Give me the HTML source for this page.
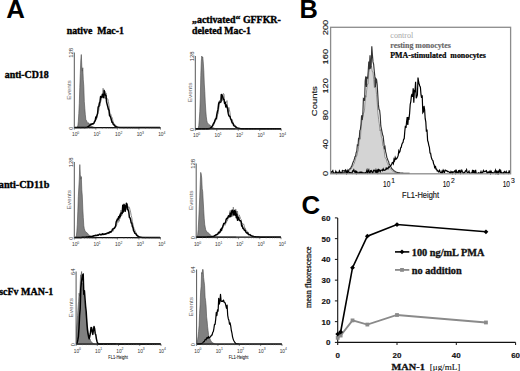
<!DOCTYPE html>
<html><head><meta charset="utf-8"><style>
html,body{margin:0;padding:0;background:#fff;}
body{width:520px;height:371px;overflow:hidden;font-family:"Liberation Sans",sans-serif;}
svg{display:block;}
</style></head><body>
<svg width="520" height="371" viewBox="0 0 520 371">
<rect width="520" height="371" fill="#fff"/>
<text x="6.3" y="17.6" font-size="25.8" font-family='"Liberation Sans", sans-serif' font-weight="bold" fill="#000" >A</text>
<text x="66.7" y="33.9" font-size="9.5" font-family='"Liberation Serif", serif' font-weight="bold" fill="#000" stroke="#000" stroke-width="0.35" textLength="57.2" lengthAdjust="spacingAndGlyphs" >native&#160;&#160;Mac-1</text>
<text x="192.1" y="22.5" font-size="9.3" font-family='"Liberation Serif", serif' font-weight="bold" fill="#000" stroke="#000" stroke-width="0.35" textLength="88.7" lengthAdjust="spacingAndGlyphs" >&#8222;activated&#8220; GFFKR-</text>
<text x="192.1" y="33.7" font-size="9.6" font-family='"Liberation Serif", serif' font-weight="bold" fill="#000" stroke="#000" stroke-width="0.35" textLength="58.8" lengthAdjust="spacingAndGlyphs" >deleted Mac-1</text>
<text x="4.7" y="77.9" font-size="10" font-family='"Liberation Serif", serif' font-weight="bold" fill="#000" stroke="#000" stroke-width="0.35" textLength="44" lengthAdjust="spacingAndGlyphs" >anti-CD18</text>
<text x="-1.2" y="187.6" font-size="10" font-family='"Liberation Serif", serif' font-weight="bold" fill="#000" stroke="#000" stroke-width="0.35" textLength="50.5" lengthAdjust="spacingAndGlyphs" >anti-CD11b</text>
<text x="-0.8" y="295.0" font-size="10" font-family='"Liberation Serif", serif' font-weight="bold" fill="#000" stroke="#000" stroke-width="0.35" textLength="54" lengthAdjust="spacingAndGlyphs" >scFv MAN-1</text>
<path d="M74.8,127.6 L74.8,127.6 L75.3,127.6 L75.8,127.6 L76.3,127.59 L76.8,127.54 L77.3,127.22 L77.8,126.02 L78.3,121.74 L78.8,113.62 L79.3,103.44 L79.8,87.33 L80.3,73.24 L80.8,60.15 L81.3,54.52 L81.8,66.04 L82.3,71.2 L82.8,67.77 L83.3,79.79 L83.8,86.32 L84.3,101.49 L84.8,108.24 L85.3,114.4 L85.8,119.46 L86.3,120.28 L86.8,121.15 L87.3,122.55 L87.8,122.9 L88.3,122.81 L88.8,122.96 L89.3,123.94 L89.8,124.55 L90.3,124.92 L90.8,125.56 L91.3,125.87 L91.8,126.15 L92.3,126.47 L92.8,126.74 L93.3,126.96 L93.8,127.13 L94.3,127.26 L94.8,127.36 L95.3,127.44 L95.8,127.49 L96.3,127.53 L96.8,127.55 L97.3,127.57 L97.8,127.58 L98.3,127.59 L98.8,127.59 L99.3,127.6 L99.8,127.6 L100.3,127.6 L100.8,127.6 L101.3,127.6 L101.8,127.6 L102.3,127.6 L102.8,127.6 L103.3,127.6 L103.8,127.6 L104.3,127.6 L104.8,127.6 L105.3,127.6 L105.8,127.6 L106.3,127.6 L106.8,127.6 L107.3,127.6 L107.8,127.6 L108.3,127.6 L108.8,127.6 L109.3,127.6 L109.8,127.6 L110.3,127.6 L110.8,127.6 L111.3,127.6 L111.8,127.6 L112.3,127.6 L112.8,127.6 L113.3,127.6 L113.8,127.6 L114.3,127.6 L114.3,127.6 Z" fill="#808080" stroke="#4a4a4a" stroke-width="0.6"/>
<path d="M74.8,127.6 L75.4,127.6 L76.0,127.6 L76.6,127.6 L77.2,127.6 L77.8,127.6 L78.4,127.6 L79.0,127.6 L79.6,127.6 L80.2,127.6 L80.8,127.6 L81.4,127.6 L82.0,127.6 L82.6,127.6 L83.2,127.6 L83.8,127.6 L84.4,127.6 L85.0,127.59 L85.6,127.57 L86.2,127.54 L86.8,127.48 L87.4,127.35 L88.0,127.15 L88.6,126.85 L89.2,126.44 L89.8,126.22 L90.4,125.55 L91.0,125.43 L91.6,124.74 L92.2,123.81 L92.8,123.63 L93.4,123.71 L94.0,122.83 L94.6,122.73 L95.2,120.81 L95.8,120.01 L96.4,119.91 L97.0,116.24 L97.6,114.25 L98.2,111.22 L98.8,110.74 L99.4,103.88 L100.0,105.73 L100.6,101.99 L101.2,100.31 L101.8,97.94 L102.4,97.52 L103.0,88.31 L103.6,88.96 L104.2,98.24 L104.8,91.0 L105.4,99.01 L106.0,92.92 L106.6,97.93 L107.2,98.65 L107.8,98.89 L108.4,101.65 L109.0,105.43 L109.6,111.08 L110.2,114.65 L110.8,114.09 L111.4,116.55 L112.0,117.25 L112.6,119.26 L113.2,122.56 L113.8,123.24 L114.4,123.81 L115.0,125.03 L115.6,125.23 L116.2,126.12 L116.8,126.53 L117.4,126.83 L118.0,127.06 L118.6,127.22 L119.2,127.34 L119.8,127.42 L120.4,127.48 L121.0,127.52 L121.6,127.55 L122.2,127.57 L122.8,127.58 L123.4,127.59 L124.0,127.59 L124.6,127.6 L125.2,127.6 L125.8,127.6 L126.4,127.6 L127.0,127.6 L127.6,127.6 L128.2,127.6 L128.8,127.6 L129.4,127.6 L130.0,127.6 L130.6,127.6 L131.2,127.6 L131.8,127.6 L132.4,127.6 L133.0,127.6 L133.6,127.6 L134.2,127.6 L134.8,127.6 L135.4,127.6 L136.0,127.6 L136.6,127.6 L137.2,127.6 L137.8,127.6 L138.4,127.6 L139.0,127.6 L139.6,127.6 L140.2,127.6 L140.8,127.6 L141.4,127.6 L142.0,127.6 L142.6,127.6 L143.2,127.6 L143.8,127.6 L144.4,127.6 L145.0,127.6 L145.6,127.6 L146.2,127.6 L146.8,127.6 L147.4,127.6 L148.0,127.6 L148.6,127.6 L149.2,127.6 L149.8,127.6 L150.4,127.6 L151.0,127.6 L151.6,127.6 L152.2,127.6 L152.8,127.6 L153.4,127.6 L154.0,127.6 L154.6,127.6 L155.2,127.6 L155.8,127.6 L156.4,127.6 L157.0,127.6 L157.6,127.6 L158.2,127.6 L158.8,127.6 L159.4,127.6 L160.0,127.6" fill="none" stroke="#8a8a8a" stroke-width="1.0" stroke-linejoin="round"/>
<path d="M74.8,127.6 L75.4,127.6 L76.0,127.6 L76.6,127.6 L77.2,127.6 L77.8,127.6 L78.4,127.6 L79.0,127.6 L79.6,127.6 L80.2,127.6 L80.8,127.6 L81.4,127.6 L82.0,127.6 L82.6,127.6 L83.2,127.6 L83.8,127.59 L84.4,127.59 L85.0,127.57 L85.6,127.53 L86.2,127.45 L86.8,127.31 L87.4,127.09 L88.0,126.77 L88.6,126.34 L89.2,125.8 L89.8,125.56 L90.4,124.47 L91.0,124.09 L91.6,124.28 L92.2,123.83 L92.8,124.1 L93.4,123.69 L94.0,122.94 L94.6,121.2 L95.2,120.86 L95.8,117.03 L96.4,117.88 L97.0,115.28 L97.6,113.46 L98.2,106.9 L98.8,106.63 L99.4,103.1 L100.0,101.74 L100.6,96.52 L101.2,96.8 L101.8,97.42 L102.4,94.14 L103.0,95.22 L103.6,97.58 L104.2,90.61 L104.8,93.45 L105.4,95.34 L106.0,95.45 L106.6,102.11 L107.2,104.6 L107.8,106.75 L108.4,109.35 L109.0,110.39 L109.6,115.86 L110.2,116.0 L110.8,117.76 L111.4,120.05 L112.0,122.18 L112.6,122.2 L113.2,124.26 L113.8,124.49 L114.4,125.55 L115.0,126.13 L115.6,126.33 L116.2,126.68 L116.8,126.95 L117.4,127.14 L118.0,127.28 L118.6,127.38 L119.2,127.45 L119.8,127.5 L120.4,127.54 L121.0,127.56 L121.6,127.57 L122.2,127.58 L122.8,127.59 L123.4,127.59 L124.0,127.6 L124.6,127.6 L125.2,127.6 L125.8,127.6 L126.4,127.6 L127.0,127.6 L127.6,127.6 L128.2,127.6 L128.8,127.6 L129.4,127.6 L130.0,127.6 L130.6,127.6 L131.2,127.6 L131.8,127.6 L132.4,127.6 L133.0,127.6 L133.6,127.6 L134.2,127.6 L134.8,127.6 L135.4,127.6 L136.0,127.6 L136.6,127.6 L137.2,127.6 L137.8,127.6 L138.4,127.6 L139.0,127.6 L139.6,127.6 L140.2,127.6 L140.8,127.6 L141.4,127.6 L142.0,127.6 L142.6,127.6 L143.2,127.6 L143.8,127.6 L144.4,127.6 L145.0,127.6 L145.6,127.6 L146.2,127.6 L146.8,127.6 L147.4,127.6 L148.0,127.6 L148.6,127.6 L149.2,127.6 L149.8,127.6 L150.4,127.6 L151.0,127.6 L151.6,127.6 L152.2,127.6 L152.8,127.6 L153.4,127.6 L154.0,127.6 L154.6,127.6 L155.2,127.6 L155.8,127.6 L156.4,127.6 L157.0,127.6 L157.6,127.6 L158.2,127.6 L158.8,127.6 L159.4,127.6 L160.0,127.6" fill="none" stroke="#000" stroke-width="1.5" stroke-linejoin="round"/>
<line x1="74.3" y1="52.5" x2="74.3" y2="127.6" stroke="#444" stroke-width="0.9"/>
<line x1="74.3" y1="127.6" x2="160.5" y2="127.6" stroke="#111" stroke-width="1.25"/>
<line x1="80.79" y1="127.6" x2="80.79" y2="128.79999999999998" stroke="#555" stroke-width="0.5"/>
<line x1="84.58" y1="127.6" x2="84.58" y2="128.79999999999998" stroke="#555" stroke-width="0.5"/>
<line x1="87.27" y1="127.6" x2="87.27" y2="128.79999999999998" stroke="#555" stroke-width="0.5"/>
<line x1="89.36" y1="127.6" x2="89.36" y2="128.79999999999998" stroke="#555" stroke-width="0.5"/>
<line x1="91.07" y1="127.6" x2="91.07" y2="128.79999999999998" stroke="#555" stroke-width="0.5"/>
<line x1="92.51" y1="127.6" x2="92.51" y2="128.79999999999998" stroke="#555" stroke-width="0.5"/>
<line x1="93.76" y1="127.6" x2="93.76" y2="128.79999999999998" stroke="#555" stroke-width="0.5"/>
<line x1="94.86" y1="127.6" x2="94.86" y2="128.79999999999998" stroke="#555" stroke-width="0.5"/>
<line x1="102.34" y1="127.6" x2="102.34" y2="128.79999999999998" stroke="#555" stroke-width="0.5"/>
<line x1="106.13" y1="127.6" x2="106.13" y2="128.79999999999998" stroke="#555" stroke-width="0.5"/>
<line x1="108.82" y1="127.6" x2="108.82" y2="128.79999999999998" stroke="#555" stroke-width="0.5"/>
<line x1="110.91" y1="127.6" x2="110.91" y2="128.79999999999998" stroke="#555" stroke-width="0.5"/>
<line x1="112.62" y1="127.6" x2="112.62" y2="128.79999999999998" stroke="#555" stroke-width="0.5"/>
<line x1="114.06" y1="127.6" x2="114.06" y2="128.79999999999998" stroke="#555" stroke-width="0.5"/>
<line x1="115.31" y1="127.6" x2="115.31" y2="128.79999999999998" stroke="#555" stroke-width="0.5"/>
<line x1="116.41" y1="127.6" x2="116.41" y2="128.79999999999998" stroke="#555" stroke-width="0.5"/>
<line x1="123.89" y1="127.6" x2="123.89" y2="128.79999999999998" stroke="#555" stroke-width="0.5"/>
<line x1="127.68" y1="127.6" x2="127.68" y2="128.79999999999998" stroke="#555" stroke-width="0.5"/>
<line x1="130.37" y1="127.6" x2="130.37" y2="128.79999999999998" stroke="#555" stroke-width="0.5"/>
<line x1="132.46" y1="127.6" x2="132.46" y2="128.79999999999998" stroke="#555" stroke-width="0.5"/>
<line x1="134.17" y1="127.6" x2="134.17" y2="128.79999999999998" stroke="#555" stroke-width="0.5"/>
<line x1="135.61" y1="127.6" x2="135.61" y2="128.79999999999998" stroke="#555" stroke-width="0.5"/>
<line x1="136.86" y1="127.6" x2="136.86" y2="128.79999999999998" stroke="#555" stroke-width="0.5"/>
<line x1="137.96" y1="127.6" x2="137.96" y2="128.79999999999998" stroke="#555" stroke-width="0.5"/>
<line x1="145.44" y1="127.6" x2="145.44" y2="128.79999999999998" stroke="#555" stroke-width="0.5"/>
<line x1="149.23" y1="127.6" x2="149.23" y2="128.79999999999998" stroke="#555" stroke-width="0.5"/>
<line x1="151.92" y1="127.6" x2="151.92" y2="128.79999999999998" stroke="#555" stroke-width="0.5"/>
<line x1="154.01" y1="127.6" x2="154.01" y2="128.79999999999998" stroke="#555" stroke-width="0.5"/>
<line x1="155.72" y1="127.6" x2="155.72" y2="128.79999999999998" stroke="#555" stroke-width="0.5"/>
<line x1="157.16" y1="127.6" x2="157.16" y2="128.79999999999998" stroke="#555" stroke-width="0.5"/>
<line x1="158.41" y1="127.6" x2="158.41" y2="128.79999999999998" stroke="#555" stroke-width="0.5"/>
<line x1="159.51" y1="127.6" x2="159.51" y2="128.79999999999998" stroke="#555" stroke-width="0.5"/>
<line x1="74.30" y1="127.6" x2="74.30" y2="129.6" stroke="#333" stroke-width="0.6"/>
<text x="72.0" y="136.1" font-size="4.8" font-family='"Liberation Sans", sans-serif' font-weight="normal" fill="#333" >10</text>
<text x="77.3" y="133.9" font-size="3.4" font-family='"Liberation Sans", sans-serif' font-weight="normal" fill="#333" >0</text>
<line x1="95.85" y1="127.6" x2="95.85" y2="129.6" stroke="#333" stroke-width="0.6"/>
<text x="93.55" y="136.1" font-size="4.8" font-family='"Liberation Sans", sans-serif' font-weight="normal" fill="#333" >10</text>
<text x="98.85" y="133.9" font-size="3.4" font-family='"Liberation Sans", sans-serif' font-weight="normal" fill="#333" >1</text>
<line x1="117.40" y1="127.6" x2="117.40" y2="129.6" stroke="#333" stroke-width="0.6"/>
<text x="115.1" y="136.1" font-size="4.8" font-family='"Liberation Sans", sans-serif' font-weight="normal" fill="#333" >10</text>
<text x="120.4" y="133.9" font-size="3.4" font-family='"Liberation Sans", sans-serif' font-weight="normal" fill="#333" >2</text>
<line x1="138.95" y1="127.6" x2="138.95" y2="129.6" stroke="#333" stroke-width="0.6"/>
<text x="136.65" y="136.1" font-size="4.8" font-family='"Liberation Sans", sans-serif' font-weight="normal" fill="#333" >10</text>
<text x="141.95" y="133.9" font-size="3.4" font-family='"Liberation Sans", sans-serif' font-weight="normal" fill="#333" >3</text>
<line x1="160.50" y1="127.6" x2="160.50" y2="129.6" stroke="#333" stroke-width="0.6"/>
<text x="158.2" y="136.1" font-size="4.8" font-family='"Liberation Sans", sans-serif' font-weight="normal" fill="#333" >10</text>
<text x="163.5" y="133.9" font-size="3.4" font-family='"Liberation Sans", sans-serif' font-weight="normal" fill="#333" >4</text>
<text x="72.9" y="52.8" font-size="6.0" font-family='"Liberation Sans", sans-serif' font-weight="normal" fill="#333" text-anchor="middle" transform="rotate(-90 72.9 52.8)" >128</text>
<text x="72.9" y="128.2" font-size="5.5" font-family='"Liberation Sans", sans-serif' font-weight="normal" fill="#333" text-anchor="middle" transform="rotate(-90 72.9 128.2)" >0</text>
<text x="70.7" y="90.05" font-size="4.8" font-family='"Liberation Sans", sans-serif' font-weight="normal" fill="#666" text-anchor="middle" transform="rotate(-90 70.7 90.05)" textLength="19.5" lengthAdjust="spacingAndGlyphs">Events</text>
<path d="M195.8,128.8 L195.8,128.8 L196.3,128.8 L196.8,128.8 L197.3,128.78 L197.8,128.66 L198.3,128.02 L198.8,125.49 L199.3,119.34 L199.8,111.47 L200.3,98.01 L200.8,75.49 L201.3,61.33 L201.8,56.0 L202.3,57.66 L202.8,57.04 L203.3,63.02 L203.8,70.78 L204.3,83.98 L204.8,91.86 L205.3,102.93 L205.8,110.91 L206.3,116.82 L206.8,120.52 L207.3,122.55 L207.8,123.23 L208.3,123.79 L208.8,124.39 L209.3,124.8 L209.8,124.89 L210.3,125.49 L210.8,125.94 L211.3,126.15 L211.8,126.78 L212.3,127.16 L212.8,127.52 L213.3,127.82 L213.8,128.06 L214.3,128.25 L214.8,128.4 L215.3,128.52 L215.8,128.6 L216.3,128.66 L216.8,128.71 L217.3,128.74 L217.8,128.76 L218.3,128.78 L218.8,128.79 L219.3,128.79 L219.8,128.79 L220.3,128.8 L220.8,128.8 L221.3,128.8 L221.8,128.8 L222.3,128.8 L222.8,128.8 L223.3,128.8 L223.8,128.8 L224.3,128.8 L224.8,128.8 L225.3,128.8 L225.8,128.8 L226.3,128.8 L226.8,128.8 L227.3,128.8 L227.8,128.8 L228.3,128.8 L228.8,128.8 L229.3,128.8 L229.8,128.8 L230.3,128.8 L230.8,128.8 L231.3,128.8 L231.8,128.8 L232.3,128.8 L232.8,128.8 L233.3,128.8 L233.8,128.8 L234.3,128.8 L234.8,128.8 L235.3,128.8 L235.3,128.8 Z" fill="#808080" stroke="#4a4a4a" stroke-width="0.6"/>
<path d="M195.8,128.8 L196.4,128.8 L197.0,128.8 L197.6,128.8 L198.2,128.8 L198.8,128.8 L199.4,128.8 L200.0,128.8 L200.6,128.8 L201.2,128.8 L201.8,128.8 L202.4,128.8 L203.0,128.8 L203.6,128.8 L204.2,128.8 L204.8,128.8 L205.4,128.8 L206.0,128.8 L206.6,128.79 L207.2,128.79 L207.8,128.78 L208.4,128.76 L209.0,128.71 L209.6,128.63 L210.2,128.48 L210.8,128.22 L211.4,127.83 L212.0,127.11 L212.6,126.39 L213.2,125.71 L213.8,125.04 L214.4,122.96 L215.0,120.81 L215.6,120.89 L216.2,117.68 L216.8,119.32 L217.4,114.77 L218.0,114.33 L218.6,109.58 L219.2,105.58 L219.8,100.06 L220.4,100.7 L221.0,94.26 L221.6,99.24 L222.2,100.97 L222.8,96.41 L223.4,93.44 L224.0,94.22 L224.6,103.57 L225.2,102.06 L225.8,103.35 L226.4,102.58 L227.0,100.58 L227.6,108.21 L228.2,111.92 L228.8,107.28 L229.4,109.83 L230.0,112.66 L230.6,118.45 L231.2,118.9 L231.8,120.67 L232.4,119.61 L233.0,123.2 L233.6,124.17 L234.2,124.85 L234.8,124.78 L235.4,126.27 L236.0,126.08 L236.6,127.15 L237.2,127.42 L237.8,127.74 L238.4,128.0 L239.0,128.2 L239.6,128.35 L240.2,128.47 L240.8,128.56 L241.4,128.63 L242.0,128.68 L242.6,128.71 L243.2,128.74 L243.8,128.76 L244.4,128.77 L245.0,128.78 L245.6,128.79 L246.2,128.79 L246.8,128.79 L247.4,128.8 L248.0,128.8 L248.6,128.8 L249.2,128.8 L249.8,128.8 L250.4,128.8 L251.0,128.8 L251.6,128.8 L252.2,128.8 L252.8,128.8 L253.4,128.8 L254.0,128.8 L254.6,128.8 L255.2,128.8 L255.8,128.8 L256.4,128.8 L257.0,128.8 L257.6,128.8 L258.2,128.8 L258.8,128.8 L259.4,128.8 L260.0,128.8 L260.6,128.8 L261.2,128.8 L261.8,128.8 L262.4,128.8 L263.0,128.8 L263.6,128.8 L264.2,128.8 L264.8,128.8 L265.4,128.8 L266.0,128.8 L266.6,128.8 L267.2,128.8 L267.8,128.8 L268.4,128.8 L269.0,128.8 L269.6,128.8 L270.2,128.8 L270.8,128.8 L271.4,128.8 L272.0,128.8 L272.6,128.8 L273.2,128.8 L273.8,128.8 L274.4,128.8 L275.0,128.8 L275.6,128.8 L276.2,128.8 L276.8,128.8 L277.4,128.8 L278.0,128.8 L278.6,128.8 L279.2,128.8 L279.8,128.8 L280.4,128.8 L281.0,128.8" fill="none" stroke="#8a8a8a" stroke-width="1.0" stroke-linejoin="round"/>
<path d="M195.8,128.8 L196.4,128.8 L197.0,128.8 L197.6,128.8 L198.2,128.8 L198.8,128.8 L199.4,128.8 L200.0,128.8 L200.6,128.8 L201.2,128.8 L201.8,128.8 L202.4,128.8 L203.0,128.8 L203.6,128.8 L204.2,128.8 L204.8,128.8 L205.4,128.8 L206.0,128.79 L206.6,128.79 L207.2,128.77 L207.8,128.75 L208.4,128.69 L209.0,128.6 L209.6,128.42 L210.2,128.14 L210.8,127.72 L211.4,127.31 L212.0,126.26 L212.6,125.78 L213.2,124.06 L213.8,123.02 L214.4,122.21 L215.0,120.25 L215.6,118.73 L216.2,118.76 L216.8,114.67 L217.4,111.64 L218.0,109.4 L218.6,104.0 L219.2,102.08 L219.8,102.59 L220.4,102.09 L221.0,101.82 L221.6,94.43 L222.2,95.67 L222.8,96.88 L223.4,99.23 L224.0,99.66 L224.6,103.42 L225.2,102.18 L225.8,106.92 L226.4,105.06 L227.0,106.98 L227.6,108.78 L228.2,113.15 L228.8,115.66 L229.4,116.24 L230.0,116.59 L230.6,118.87 L231.2,119.71 L231.8,121.88 L232.4,123.1 L233.0,123.32 L233.6,125.27 L234.2,125.91 L234.8,126.19 L235.4,126.71 L236.0,127.27 L236.6,127.59 L237.2,127.88 L237.8,128.1 L238.4,128.28 L239.0,128.41 L239.6,128.52 L240.2,128.6 L240.8,128.65 L241.4,128.7 L242.0,128.73 L242.6,128.75 L243.2,128.77 L243.8,128.78 L244.4,128.78 L245.0,128.79 L245.6,128.79 L246.2,128.8 L246.8,128.8 L247.4,128.8 L248.0,128.8 L248.6,128.8 L249.2,128.8 L249.8,128.8 L250.4,128.8 L251.0,128.8 L251.6,128.8 L252.2,128.8 L252.8,128.8 L253.4,128.8 L254.0,128.8 L254.6,128.8 L255.2,128.8 L255.8,128.8 L256.4,128.8 L257.0,128.8 L257.6,128.8 L258.2,128.8 L258.8,128.8 L259.4,128.8 L260.0,128.8 L260.6,128.8 L261.2,128.8 L261.8,128.8 L262.4,128.8 L263.0,128.8 L263.6,128.8 L264.2,128.8 L264.8,128.8 L265.4,128.8 L266.0,128.8 L266.6,128.8 L267.2,128.8 L267.8,128.8 L268.4,128.8 L269.0,128.8 L269.6,128.8 L270.2,128.8 L270.8,128.8 L271.4,128.8 L272.0,128.8 L272.6,128.8 L273.2,128.8 L273.8,128.8 L274.4,128.8 L275.0,128.8 L275.6,128.8 L276.2,128.8 L276.8,128.8 L277.4,128.8 L278.0,128.8 L278.6,128.8 L279.2,128.8 L279.8,128.8 L280.4,128.8 L281.0,128.8" fill="none" stroke="#000" stroke-width="1.5" stroke-linejoin="round"/>
<line x1="195.3" y1="56.0" x2="195.3" y2="128.8" stroke="#444" stroke-width="0.9"/>
<line x1="195.3" y1="128.8" x2="281.2" y2="128.8" stroke="#111" stroke-width="1.25"/>
<line x1="201.76" y1="128.8" x2="201.76" y2="130.0" stroke="#555" stroke-width="0.5"/>
<line x1="205.55" y1="128.8" x2="205.55" y2="130.0" stroke="#555" stroke-width="0.5"/>
<line x1="208.23" y1="128.8" x2="208.23" y2="130.0" stroke="#555" stroke-width="0.5"/>
<line x1="210.31" y1="128.8" x2="210.31" y2="130.0" stroke="#555" stroke-width="0.5"/>
<line x1="212.01" y1="128.8" x2="212.01" y2="130.0" stroke="#555" stroke-width="0.5"/>
<line x1="213.45" y1="128.8" x2="213.45" y2="130.0" stroke="#555" stroke-width="0.5"/>
<line x1="214.69" y1="128.8" x2="214.69" y2="130.0" stroke="#555" stroke-width="0.5"/>
<line x1="215.79" y1="128.8" x2="215.79" y2="130.0" stroke="#555" stroke-width="0.5"/>
<line x1="223.24" y1="128.8" x2="223.24" y2="130.0" stroke="#555" stroke-width="0.5"/>
<line x1="227.02" y1="128.8" x2="227.02" y2="130.0" stroke="#555" stroke-width="0.5"/>
<line x1="229.70" y1="128.8" x2="229.70" y2="130.0" stroke="#555" stroke-width="0.5"/>
<line x1="231.79" y1="128.8" x2="231.79" y2="130.0" stroke="#555" stroke-width="0.5"/>
<line x1="233.49" y1="128.8" x2="233.49" y2="130.0" stroke="#555" stroke-width="0.5"/>
<line x1="234.92" y1="128.8" x2="234.92" y2="130.0" stroke="#555" stroke-width="0.5"/>
<line x1="236.17" y1="128.8" x2="236.17" y2="130.0" stroke="#555" stroke-width="0.5"/>
<line x1="237.27" y1="128.8" x2="237.27" y2="130.0" stroke="#555" stroke-width="0.5"/>
<line x1="244.71" y1="128.8" x2="244.71" y2="130.0" stroke="#555" stroke-width="0.5"/>
<line x1="248.50" y1="128.8" x2="248.50" y2="130.0" stroke="#555" stroke-width="0.5"/>
<line x1="251.18" y1="128.8" x2="251.18" y2="130.0" stroke="#555" stroke-width="0.5"/>
<line x1="253.26" y1="128.8" x2="253.26" y2="130.0" stroke="#555" stroke-width="0.5"/>
<line x1="254.96" y1="128.8" x2="254.96" y2="130.0" stroke="#555" stroke-width="0.5"/>
<line x1="256.40" y1="128.8" x2="256.40" y2="130.0" stroke="#555" stroke-width="0.5"/>
<line x1="257.64" y1="128.8" x2="257.64" y2="130.0" stroke="#555" stroke-width="0.5"/>
<line x1="258.74" y1="128.8" x2="258.74" y2="130.0" stroke="#555" stroke-width="0.5"/>
<line x1="266.19" y1="128.8" x2="266.19" y2="130.0" stroke="#555" stroke-width="0.5"/>
<line x1="269.97" y1="128.8" x2="269.97" y2="130.0" stroke="#555" stroke-width="0.5"/>
<line x1="272.65" y1="128.8" x2="272.65" y2="130.0" stroke="#555" stroke-width="0.5"/>
<line x1="274.74" y1="128.8" x2="274.74" y2="130.0" stroke="#555" stroke-width="0.5"/>
<line x1="276.44" y1="128.8" x2="276.44" y2="130.0" stroke="#555" stroke-width="0.5"/>
<line x1="277.87" y1="128.8" x2="277.87" y2="130.0" stroke="#555" stroke-width="0.5"/>
<line x1="279.12" y1="128.8" x2="279.12" y2="130.0" stroke="#555" stroke-width="0.5"/>
<line x1="280.22" y1="128.8" x2="280.22" y2="130.0" stroke="#555" stroke-width="0.5"/>
<line x1="195.30" y1="128.8" x2="195.30" y2="130.8" stroke="#333" stroke-width="0.6"/>
<text x="193.0" y="137.3" font-size="4.8" font-family='"Liberation Sans", sans-serif' font-weight="normal" fill="#333" >10</text>
<text x="198.3" y="135.1" font-size="3.4" font-family='"Liberation Sans", sans-serif' font-weight="normal" fill="#333" >0</text>
<line x1="216.78" y1="128.8" x2="216.78" y2="130.8" stroke="#333" stroke-width="0.6"/>
<text x="214.47" y="137.3" font-size="4.8" font-family='"Liberation Sans", sans-serif' font-weight="normal" fill="#333" >10</text>
<text x="219.78" y="135.1" font-size="3.4" font-family='"Liberation Sans", sans-serif' font-weight="normal" fill="#333" >1</text>
<line x1="238.25" y1="128.8" x2="238.25" y2="130.8" stroke="#333" stroke-width="0.6"/>
<text x="235.95" y="137.3" font-size="4.8" font-family='"Liberation Sans", sans-serif' font-weight="normal" fill="#333" >10</text>
<text x="241.25" y="135.1" font-size="3.4" font-family='"Liberation Sans", sans-serif' font-weight="normal" fill="#333" >2</text>
<line x1="259.73" y1="128.8" x2="259.73" y2="130.8" stroke="#333" stroke-width="0.6"/>
<text x="257.43" y="137.3" font-size="4.8" font-family='"Liberation Sans", sans-serif' font-weight="normal" fill="#333" >10</text>
<text x="262.73" y="135.1" font-size="3.4" font-family='"Liberation Sans", sans-serif' font-weight="normal" fill="#333" >3</text>
<line x1="281.20" y1="128.8" x2="281.20" y2="130.8" stroke="#333" stroke-width="0.6"/>
<text x="278.9" y="137.3" font-size="4.8" font-family='"Liberation Sans", sans-serif' font-weight="normal" fill="#333" >10</text>
<text x="284.2" y="135.1" font-size="3.4" font-family='"Liberation Sans", sans-serif' font-weight="normal" fill="#333" >4</text>
<text x="193.9" y="56.3" font-size="6.0" font-family='"Liberation Sans", sans-serif' font-weight="normal" fill="#333" text-anchor="middle" transform="rotate(-90 193.9 56.3)" >128</text>
<text x="193.9" y="129.4" font-size="5.5" font-family='"Liberation Sans", sans-serif' font-weight="normal" fill="#333" text-anchor="middle" transform="rotate(-90 193.9 129.4)" >0</text>
<text x="191.7" y="92.4" font-size="4.8" font-family='"Liberation Sans", sans-serif' font-weight="normal" fill="#666" text-anchor="middle" transform="rotate(-90 191.7 92.4)" textLength="19.5" lengthAdjust="spacingAndGlyphs">Events</text>
<path d="M74.8,237.5 L74.8,237.49 L75.3,237.44 L75.8,237.13 L76.3,235.91 L76.8,232.03 L77.3,224.72 L77.8,211.86 L78.3,196.66 L78.8,187.93 L79.3,179.08 L79.8,164.58 L80.3,174.44 L80.8,179.19 L81.3,176.55 L81.8,189.83 L82.3,196.06 L82.8,208.9 L83.3,217.53 L83.8,225.79 L84.3,228.65 L84.8,230.25 L85.3,231.47 L85.8,231.63 L86.3,232.11 L86.8,233.14 L87.3,232.99 L87.8,233.66 L88.3,234.38 L88.8,235.02 L89.3,235.07 L89.8,235.67 L90.3,236.04 L90.8,236.37 L91.3,236.63 L91.8,236.85 L92.3,237.03 L92.8,237.16 L93.3,237.26 L93.8,237.34 L94.3,237.39 L94.8,237.43 L95.3,237.45 L95.8,237.47 L96.3,237.48 L96.8,237.49 L97.3,237.49 L97.8,237.5 L98.3,237.5 L98.8,237.5 L99.3,237.5 L99.8,237.5 L100.3,237.5 L100.8,237.5 L101.3,237.5 L101.8,237.5 L102.3,237.5 L102.8,237.5 L103.3,237.5 L103.8,237.5 L104.3,237.5 L104.8,237.5 L105.3,237.5 L105.8,237.5 L106.3,237.5 L106.8,237.5 L107.3,237.5 L107.8,237.5 L108.3,237.5 L108.8,237.5 L109.3,237.5 L109.8,237.5 L110.3,237.5 L110.8,237.5 L111.3,237.5 L111.8,237.5 L112.3,237.5 L112.8,237.5 L113.3,237.5 L113.8,237.5 L114.3,237.5 L114.3,237.5 Z" fill="#808080" stroke="#4a4a4a" stroke-width="0.6"/>
<path d="M74.8,237.49 L75.4,237.49 L76.0,237.49 L76.6,237.48 L77.2,237.48 L77.8,237.47 L78.4,237.47 L79.0,237.46 L79.6,237.45 L80.2,237.44 L80.8,237.42 L81.4,237.41 L82.0,237.39 L82.6,237.37 L83.2,237.35 L83.8,237.32 L84.4,237.29 L85.0,237.25 L85.6,237.21 L86.2,237.17 L86.8,237.12 L87.4,237.06 L88.0,237.0 L88.6,236.93 L89.2,236.85 L89.8,236.77 L90.4,236.67 L91.0,236.58 L91.6,236.47 L92.2,236.36 L92.8,236.24 L93.4,236.12 L94.0,236.24 L94.6,235.63 L95.2,235.64 L95.8,235.8 L96.4,235.2 L97.0,235.2 L97.6,234.83 L98.2,234.88 L98.8,234.62 L99.4,234.41 L100.0,234.76 L100.6,234.95 L101.2,233.83 L101.8,234.72 L102.4,234.03 L103.0,233.31 L103.6,234.12 L104.2,234.16 L104.8,233.9 L105.4,234.09 L106.0,233.14 L106.6,233.76 L107.2,234.03 L107.8,233.03 L108.4,233.47 L109.0,233.46 L109.6,233.58 L110.2,231.68 L110.8,232.31 L111.4,231.41 L112.0,231.21 L112.6,229.58 L113.2,231.24 L113.8,228.71 L114.4,227.07 L115.0,228.18 L115.6,226.49 L116.2,225.8 L116.8,224.64 L117.4,219.55 L118.0,222.6 L118.6,217.51 L119.2,221.29 L119.8,213.67 L120.4,218.37 L121.0,210.14 L121.6,216.03 L122.2,213.28 L122.8,211.64 L123.4,210.47 L124.0,203.62 L124.6,206.27 L125.2,211.62 L125.8,209.71 L126.4,206.75 L127.0,203.56 L127.6,205.39 L128.2,208.63 L128.8,206.66 L129.4,207.39 L130.0,209.86 L130.6,212.16 L131.2,215.46 L131.8,217.7 L132.4,221.91 L133.0,224.31 L133.6,226.85 L134.2,229.33 L134.8,229.57 L135.4,232.14 L136.0,232.31 L136.6,234.08 L137.2,235.32 L137.8,235.16 L138.4,235.97 L139.0,236.36 L139.6,236.67 L140.2,236.9 L140.8,237.08 L141.4,237.21 L142.0,237.3 L142.6,237.36 L143.2,237.41 L143.8,237.44 L144.4,237.46 L145.0,237.47 L145.6,237.48 L146.2,237.49 L146.8,237.49 L147.4,237.5 L148.0,237.5 L148.6,237.5 L149.2,237.5 L149.8,237.5 L150.4,237.5 L151.0,237.5 L151.6,237.5 L152.2,237.5 L152.8,237.5 L153.4,237.5 L154.0,237.5 L154.6,237.5 L155.2,237.5 L155.8,237.5 L156.4,237.5 L157.0,237.5 L157.6,237.5 L158.2,237.5 L158.8,237.5 L159.4,237.5 L160.0,237.5" fill="none" stroke="#8a8a8a" stroke-width="1.0" stroke-linejoin="round"/>
<path d="M74.8,237.49 L75.4,237.48 L76.0,237.48 L76.6,237.48 L77.2,237.47 L77.8,237.46 L78.4,237.46 L79.0,237.45 L79.6,237.44 L80.2,237.42 L80.8,237.41 L81.4,237.39 L82.0,237.37 L82.6,237.35 L83.2,237.32 L83.8,237.29 L84.4,237.25 L85.0,237.21 L85.6,237.17 L86.2,237.12 L86.8,237.06 L87.4,237.0 L88.0,236.93 L88.6,236.85 L89.2,236.77 L89.8,236.68 L90.4,236.59 L91.0,236.49 L91.6,236.38 L92.2,236.26 L92.8,236.14 L93.4,236.02 L94.0,235.64 L94.6,235.78 L95.2,235.49 L95.8,235.33 L96.4,235.54 L97.0,235.52 L97.6,234.99 L98.2,235.25 L98.8,234.91 L99.4,234.33 L100.0,234.21 L100.6,234.82 L101.2,234.76 L101.8,234.52 L102.4,233.78 L103.0,234.57 L103.6,234.27 L104.2,234.33 L104.8,234.23 L105.4,233.66 L106.0,233.99 L106.6,233.6 L107.2,233.05 L107.8,232.9 L108.4,233.14 L109.0,232.36 L109.6,232.4 L110.2,231.63 L110.8,232.24 L111.4,231.55 L112.0,230.55 L112.6,229.0 L113.2,228.98 L113.8,228.49 L114.4,228.24 L115.0,227.13 L115.6,226.29 L116.2,221.77 L116.8,220.68 L117.4,219.03 L118.0,219.46 L118.6,216.82 L119.2,217.96 L119.8,215.24 L120.4,216.38 L121.0,212.96 L121.6,213.15 L122.2,213.47 L122.8,205.16 L123.4,211.99 L124.0,204.65 L124.6,205.36 L125.2,211.14 L125.8,207.48 L126.4,203.23 L127.0,204.47 L127.6,209.72 L128.2,209.7 L128.8,212.24 L129.4,217.33 L130.0,217.75 L130.6,219.73 L131.2,222.94 L131.8,223.19 L132.4,226.67 L133.0,227.53 L133.6,230.94 L134.2,231.41 L134.8,233.25 L135.4,233.39 L136.0,234.07 L136.6,235.12 L137.2,235.68 L137.8,236.17 L138.4,236.52 L139.0,236.79 L139.6,236.99 L140.2,237.14 L140.8,237.25 L141.4,237.33 L142.0,237.39 L142.6,237.42 L143.2,237.45 L143.8,237.47 L144.4,237.48 L145.0,237.49 L145.6,237.49 L146.2,237.5 L146.8,237.5 L147.4,237.5 L148.0,237.5 L148.6,237.5 L149.2,237.5 L149.8,237.5 L150.4,237.5 L151.0,237.5 L151.6,237.5 L152.2,237.5 L152.8,237.5 L153.4,237.5 L154.0,237.5 L154.6,237.5 L155.2,237.5 L155.8,237.5 L156.4,237.5 L157.0,237.5 L157.6,237.5 L158.2,237.5 L158.8,237.5 L159.4,237.5 L160.0,237.5" fill="none" stroke="#000" stroke-width="1.5" stroke-linejoin="round"/>
<line x1="74.3" y1="162.0" x2="74.3" y2="237.5" stroke="#444" stroke-width="0.9"/>
<line x1="74.3" y1="237.5" x2="160.5" y2="237.5" stroke="#111" stroke-width="1.25"/>
<line x1="80.79" y1="237.5" x2="80.79" y2="238.7" stroke="#555" stroke-width="0.5"/>
<line x1="84.58" y1="237.5" x2="84.58" y2="238.7" stroke="#555" stroke-width="0.5"/>
<line x1="87.27" y1="237.5" x2="87.27" y2="238.7" stroke="#555" stroke-width="0.5"/>
<line x1="89.36" y1="237.5" x2="89.36" y2="238.7" stroke="#555" stroke-width="0.5"/>
<line x1="91.07" y1="237.5" x2="91.07" y2="238.7" stroke="#555" stroke-width="0.5"/>
<line x1="92.51" y1="237.5" x2="92.51" y2="238.7" stroke="#555" stroke-width="0.5"/>
<line x1="93.76" y1="237.5" x2="93.76" y2="238.7" stroke="#555" stroke-width="0.5"/>
<line x1="94.86" y1="237.5" x2="94.86" y2="238.7" stroke="#555" stroke-width="0.5"/>
<line x1="102.34" y1="237.5" x2="102.34" y2="238.7" stroke="#555" stroke-width="0.5"/>
<line x1="106.13" y1="237.5" x2="106.13" y2="238.7" stroke="#555" stroke-width="0.5"/>
<line x1="108.82" y1="237.5" x2="108.82" y2="238.7" stroke="#555" stroke-width="0.5"/>
<line x1="110.91" y1="237.5" x2="110.91" y2="238.7" stroke="#555" stroke-width="0.5"/>
<line x1="112.62" y1="237.5" x2="112.62" y2="238.7" stroke="#555" stroke-width="0.5"/>
<line x1="114.06" y1="237.5" x2="114.06" y2="238.7" stroke="#555" stroke-width="0.5"/>
<line x1="115.31" y1="237.5" x2="115.31" y2="238.7" stroke="#555" stroke-width="0.5"/>
<line x1="116.41" y1="237.5" x2="116.41" y2="238.7" stroke="#555" stroke-width="0.5"/>
<line x1="123.89" y1="237.5" x2="123.89" y2="238.7" stroke="#555" stroke-width="0.5"/>
<line x1="127.68" y1="237.5" x2="127.68" y2="238.7" stroke="#555" stroke-width="0.5"/>
<line x1="130.37" y1="237.5" x2="130.37" y2="238.7" stroke="#555" stroke-width="0.5"/>
<line x1="132.46" y1="237.5" x2="132.46" y2="238.7" stroke="#555" stroke-width="0.5"/>
<line x1="134.17" y1="237.5" x2="134.17" y2="238.7" stroke="#555" stroke-width="0.5"/>
<line x1="135.61" y1="237.5" x2="135.61" y2="238.7" stroke="#555" stroke-width="0.5"/>
<line x1="136.86" y1="237.5" x2="136.86" y2="238.7" stroke="#555" stroke-width="0.5"/>
<line x1="137.96" y1="237.5" x2="137.96" y2="238.7" stroke="#555" stroke-width="0.5"/>
<line x1="145.44" y1="237.5" x2="145.44" y2="238.7" stroke="#555" stroke-width="0.5"/>
<line x1="149.23" y1="237.5" x2="149.23" y2="238.7" stroke="#555" stroke-width="0.5"/>
<line x1="151.92" y1="237.5" x2="151.92" y2="238.7" stroke="#555" stroke-width="0.5"/>
<line x1="154.01" y1="237.5" x2="154.01" y2="238.7" stroke="#555" stroke-width="0.5"/>
<line x1="155.72" y1="237.5" x2="155.72" y2="238.7" stroke="#555" stroke-width="0.5"/>
<line x1="157.16" y1="237.5" x2="157.16" y2="238.7" stroke="#555" stroke-width="0.5"/>
<line x1="158.41" y1="237.5" x2="158.41" y2="238.7" stroke="#555" stroke-width="0.5"/>
<line x1="159.51" y1="237.5" x2="159.51" y2="238.7" stroke="#555" stroke-width="0.5"/>
<line x1="74.30" y1="237.5" x2="74.30" y2="239.5" stroke="#333" stroke-width="0.6"/>
<text x="72.0" y="246.0" font-size="4.8" font-family='"Liberation Sans", sans-serif' font-weight="normal" fill="#333" >10</text>
<text x="77.3" y="243.8" font-size="3.4" font-family='"Liberation Sans", sans-serif' font-weight="normal" fill="#333" >0</text>
<line x1="95.85" y1="237.5" x2="95.85" y2="239.5" stroke="#333" stroke-width="0.6"/>
<text x="93.55" y="246.0" font-size="4.8" font-family='"Liberation Sans", sans-serif' font-weight="normal" fill="#333" >10</text>
<text x="98.85" y="243.8" font-size="3.4" font-family='"Liberation Sans", sans-serif' font-weight="normal" fill="#333" >1</text>
<line x1="117.40" y1="237.5" x2="117.40" y2="239.5" stroke="#333" stroke-width="0.6"/>
<text x="115.1" y="246.0" font-size="4.8" font-family='"Liberation Sans", sans-serif' font-weight="normal" fill="#333" >10</text>
<text x="120.4" y="243.8" font-size="3.4" font-family='"Liberation Sans", sans-serif' font-weight="normal" fill="#333" >2</text>
<line x1="138.95" y1="237.5" x2="138.95" y2="239.5" stroke="#333" stroke-width="0.6"/>
<text x="136.65" y="246.0" font-size="4.8" font-family='"Liberation Sans", sans-serif' font-weight="normal" fill="#333" >10</text>
<text x="141.95" y="243.8" font-size="3.4" font-family='"Liberation Sans", sans-serif' font-weight="normal" fill="#333" >3</text>
<line x1="160.50" y1="237.5" x2="160.50" y2="239.5" stroke="#333" stroke-width="0.6"/>
<text x="158.2" y="246.0" font-size="4.8" font-family='"Liberation Sans", sans-serif' font-weight="normal" fill="#333" >10</text>
<text x="163.5" y="243.8" font-size="3.4" font-family='"Liberation Sans", sans-serif' font-weight="normal" fill="#333" >4</text>
<text x="72.9" y="162.3" font-size="6.0" font-family='"Liberation Sans", sans-serif' font-weight="normal" fill="#333" text-anchor="middle" transform="rotate(-90 72.9 162.3)" >128</text>
<text x="72.9" y="238.1" font-size="5.5" font-family='"Liberation Sans", sans-serif' font-weight="normal" fill="#333" text-anchor="middle" transform="rotate(-90 72.9 238.1)" >0</text>
<text x="70.7" y="199.75" font-size="4.8" font-family='"Liberation Sans", sans-serif' font-weight="normal" fill="#666" text-anchor="middle" transform="rotate(-90 70.7 199.75)" textLength="19.5" lengthAdjust="spacingAndGlyphs">Events</text>
<path d="M196.7,237.2 L196.7,237.04 L197.2,236.35 L197.7,234.26 L198.2,229.48 L198.7,220.03 L199.2,209.44 L199.7,197.88 L200.2,184.19 L200.7,172.39 L201.2,173.98 L201.7,177.95 L202.2,188.68 L202.7,191.52 L203.2,200.96 L203.7,209.81 L204.2,218.14 L204.7,224.25 L205.2,227.11 L205.7,229.73 L206.2,230.78 L206.7,231.26 L207.2,232.28 L207.7,232.54 L208.2,232.71 L208.7,233.14 L209.2,233.59 L209.7,234.11 L210.2,235.0 L210.7,235.2 L211.2,235.58 L211.7,235.97 L212.2,236.26 L212.7,236.49 L213.2,236.68 L213.7,236.82 L214.2,236.93 L214.7,237.01 L215.2,237.07 L215.7,237.12 L216.2,237.14 L216.7,237.16 L217.2,237.18 L217.7,237.19 L218.2,237.19 L218.7,237.2 L219.2,237.2 L219.7,237.2 L220.2,237.2 L220.7,237.2 L221.2,237.2 L221.7,237.2 L222.2,237.2 L222.7,237.2 L223.2,237.2 L223.7,237.2 L224.2,237.2 L224.7,237.2 L225.2,237.2 L225.7,237.2 L226.2,237.2 L226.7,237.2 L227.2,237.2 L227.7,237.2 L228.2,237.2 L228.7,237.2 L229.2,237.2 L229.7,237.2 L230.2,237.2 L230.7,237.2 L231.2,237.2 L231.7,237.2 L232.2,237.2 L232.7,237.2 L233.2,237.2 L233.7,237.2 L234.2,237.2 L234.7,237.2 L235.2,237.2 L235.7,237.2 L236.2,237.2 L236.2,237.2 Z" fill="#808080" stroke="#4a4a4a" stroke-width="0.6"/>
<path d="M196.7,237.2 L197.3,237.2 L197.9,237.2 L198.5,237.2 L199.1,237.2 L199.7,237.2 L200.3,237.2 L200.9,237.2 L201.5,237.2 L202.1,237.2 L202.7,237.19 L203.3,237.19 L203.9,237.19 L204.5,237.19 L205.1,237.18 L205.7,237.17 L206.3,237.17 L206.9,237.15 L207.5,237.14 L208.1,237.12 L208.7,237.09 L209.3,237.06 L209.9,237.02 L210.5,236.97 L211.1,236.9 L211.7,236.82 L212.3,236.73 L212.9,236.61 L213.5,236.46 L214.1,236.29 L214.7,236.08 L215.3,235.83 L215.9,235.61 L216.5,235.53 L217.1,234.72 L217.7,234.77 L218.3,233.86 L218.9,233.52 L219.5,232.24 L220.1,232.6 L220.7,229.92 L221.3,231.39 L221.9,230.62 L222.5,227.6 L223.1,225.19 L223.7,224.38 L224.3,223.2 L224.9,225.48 L225.5,224.13 L226.1,222.41 L226.7,221.66 L227.3,221.07 L227.9,218.99 L228.5,217.35 L229.1,216.84 L229.7,211.56 L230.3,210.39 L230.9,216.43 L231.5,212.11 L232.1,209.62 L232.7,216.46 L233.3,207.13 L233.9,211.08 L234.5,212.52 L235.1,213.32 L235.7,208.97 L236.3,213.24 L236.9,214.81 L237.5,211.09 L238.1,218.71 L238.7,217.32 L239.3,214.85 L239.9,216.78 L240.5,218.48 L241.1,219.31 L241.7,224.72 L242.3,222.9 L242.9,224.93 L243.5,223.83 L244.1,225.19 L244.7,228.49 L245.3,228.06 L245.9,230.35 L246.5,231.03 L247.1,231.06 L247.7,231.5 L248.3,232.41 L248.9,233.93 L249.5,234.55 L250.1,233.97 L250.7,234.83 L251.3,235.16 L251.9,235.4 L252.5,235.81 L253.1,236.04 L253.7,236.24 L254.3,236.41 L254.9,236.56 L255.5,236.68 L256.1,236.78 L256.7,236.86 L257.3,236.93 L257.9,236.98 L258.5,237.03 L259.1,237.06 L259.7,237.09 L260.3,237.12 L260.9,237.14 L261.5,237.15 L262.1,237.16 L262.7,237.17 L263.3,237.18 L263.9,237.18 L264.5,237.19 L265.1,237.19 L265.7,237.19 L266.3,237.2 L266.9,237.2 L267.5,237.2 L268.1,237.2 L268.7,237.2 L269.3,237.2 L269.9,237.2 L270.5,237.2 L271.1,237.2 L271.7,237.2 L272.3,237.2 L272.9,237.2 L273.5,237.2 L274.1,237.2 L274.7,237.2 L275.3,237.2 L275.9,237.2 L276.5,237.2 L277.1,237.2 L277.7,237.2 L278.3,237.2 L278.9,237.2 L279.5,237.2 L280.1,237.2 L280.7,237.2" fill="none" stroke="#8a8a8a" stroke-width="1.0" stroke-linejoin="round"/>
<path d="M196.7,237.2 L197.3,237.2 L197.9,237.2 L198.5,237.2 L199.1,237.2 L199.7,237.2 L200.3,237.2 L200.9,237.2 L201.5,237.2 L202.1,237.19 L202.7,237.19 L203.3,237.19 L203.9,237.19 L204.5,237.18 L205.1,237.17 L205.7,237.16 L206.3,237.15 L206.9,237.14 L207.5,237.12 L208.1,237.09 L208.7,237.06 L209.3,237.01 L209.9,236.96 L210.5,236.9 L211.1,236.81 L211.7,236.71 L212.3,236.59 L212.9,236.44 L213.5,236.27 L214.1,236.06 L214.7,235.81 L215.3,235.27 L215.9,234.93 L216.5,234.6 L217.1,234.58 L217.7,234.0 L218.3,232.97 L218.9,232.14 L219.5,232.7 L220.1,231.74 L220.7,229.35 L221.3,230.27 L221.9,227.87 L222.5,227.8 L223.1,225.64 L223.7,223.6 L224.3,223.49 L224.9,223.15 L225.5,222.35 L226.1,219.61 L226.7,218.38 L227.3,218.58 L227.9,217.2 L228.5,215.79 L229.1,216.88 L229.7,216.78 L230.3,213.33 L230.9,216.42 L231.5,212.3 L232.1,210.55 L232.7,210.34 L233.3,214.95 L233.9,213.95 L234.5,210.52 L235.1,215.33 L235.7,211.35 L236.3,217.68 L236.9,214.17 L237.5,220.27 L238.1,217.32 L238.7,217.62 L239.3,220.18 L239.9,220.86 L240.5,220.7 L241.1,221.6 L241.7,226.1 L242.3,225.81 L242.9,228.44 L243.5,228.27 L244.1,229.8 L244.7,230.55 L245.3,230.31 L245.9,232.12 L246.5,232.62 L247.1,233.41 L247.7,232.9 L248.3,234.1 L248.9,234.7 L249.5,234.63 L250.1,234.95 L250.7,235.35 L251.3,235.68 L251.9,235.95 L252.5,236.16 L253.1,236.34 L253.7,236.5 L254.3,236.63 L254.9,236.73 L255.5,236.82 L256.1,236.9 L256.7,236.96 L257.3,237.01 L257.9,237.05 L258.5,237.08 L259.1,237.11 L259.7,237.13 L260.3,237.14 L260.9,237.16 L261.5,237.17 L262.1,237.18 L262.7,237.18 L263.3,237.19 L263.9,237.19 L264.5,237.19 L265.1,237.19 L265.7,237.2 L266.3,237.2 L266.9,237.2 L267.5,237.2 L268.1,237.2 L268.7,237.2 L269.3,237.2 L269.9,237.2 L270.5,237.2 L271.1,237.2 L271.7,237.2 L272.3,237.2 L272.9,237.2 L273.5,237.2 L274.1,237.2 L274.7,237.2 L275.3,237.2 L275.9,237.2 L276.5,237.2 L277.1,237.2 L277.7,237.2 L278.3,237.2 L278.9,237.2 L279.5,237.2 L280.1,237.2 L280.7,237.2" fill="none" stroke="#000" stroke-width="1.5" stroke-linejoin="round"/>
<line x1="196.2" y1="163.5" x2="196.2" y2="237.2" stroke="#444" stroke-width="0.9"/>
<line x1="196.2" y1="237.2" x2="281.0" y2="237.2" stroke="#111" stroke-width="1.25"/>
<line x1="202.58" y1="237.2" x2="202.58" y2="238.39999999999998" stroke="#555" stroke-width="0.5"/>
<line x1="206.31" y1="237.2" x2="206.31" y2="238.39999999999998" stroke="#555" stroke-width="0.5"/>
<line x1="208.96" y1="237.2" x2="208.96" y2="238.39999999999998" stroke="#555" stroke-width="0.5"/>
<line x1="211.02" y1="237.2" x2="211.02" y2="238.39999999999998" stroke="#555" stroke-width="0.5"/>
<line x1="212.70" y1="237.2" x2="212.70" y2="238.39999999999998" stroke="#555" stroke-width="0.5"/>
<line x1="214.12" y1="237.2" x2="214.12" y2="238.39999999999998" stroke="#555" stroke-width="0.5"/>
<line x1="215.35" y1="237.2" x2="215.35" y2="238.39999999999998" stroke="#555" stroke-width="0.5"/>
<line x1="216.43" y1="237.2" x2="216.43" y2="238.39999999999998" stroke="#555" stroke-width="0.5"/>
<line x1="223.78" y1="237.2" x2="223.78" y2="238.39999999999998" stroke="#555" stroke-width="0.5"/>
<line x1="227.51" y1="237.2" x2="227.51" y2="238.39999999999998" stroke="#555" stroke-width="0.5"/>
<line x1="230.16" y1="237.2" x2="230.16" y2="238.39999999999998" stroke="#555" stroke-width="0.5"/>
<line x1="232.22" y1="237.2" x2="232.22" y2="238.39999999999998" stroke="#555" stroke-width="0.5"/>
<line x1="233.90" y1="237.2" x2="233.90" y2="238.39999999999998" stroke="#555" stroke-width="0.5"/>
<line x1="235.32" y1="237.2" x2="235.32" y2="238.39999999999998" stroke="#555" stroke-width="0.5"/>
<line x1="236.55" y1="237.2" x2="236.55" y2="238.39999999999998" stroke="#555" stroke-width="0.5"/>
<line x1="237.63" y1="237.2" x2="237.63" y2="238.39999999999998" stroke="#555" stroke-width="0.5"/>
<line x1="244.98" y1="237.2" x2="244.98" y2="238.39999999999998" stroke="#555" stroke-width="0.5"/>
<line x1="248.71" y1="237.2" x2="248.71" y2="238.39999999999998" stroke="#555" stroke-width="0.5"/>
<line x1="251.36" y1="237.2" x2="251.36" y2="238.39999999999998" stroke="#555" stroke-width="0.5"/>
<line x1="253.42" y1="237.2" x2="253.42" y2="238.39999999999998" stroke="#555" stroke-width="0.5"/>
<line x1="255.10" y1="237.2" x2="255.10" y2="238.39999999999998" stroke="#555" stroke-width="0.5"/>
<line x1="256.52" y1="237.2" x2="256.52" y2="238.39999999999998" stroke="#555" stroke-width="0.5"/>
<line x1="257.75" y1="237.2" x2="257.75" y2="238.39999999999998" stroke="#555" stroke-width="0.5"/>
<line x1="258.83" y1="237.2" x2="258.83" y2="238.39999999999998" stroke="#555" stroke-width="0.5"/>
<line x1="266.18" y1="237.2" x2="266.18" y2="238.39999999999998" stroke="#555" stroke-width="0.5"/>
<line x1="269.91" y1="237.2" x2="269.91" y2="238.39999999999998" stroke="#555" stroke-width="0.5"/>
<line x1="272.56" y1="237.2" x2="272.56" y2="238.39999999999998" stroke="#555" stroke-width="0.5"/>
<line x1="274.62" y1="237.2" x2="274.62" y2="238.39999999999998" stroke="#555" stroke-width="0.5"/>
<line x1="276.30" y1="237.2" x2="276.30" y2="238.39999999999998" stroke="#555" stroke-width="0.5"/>
<line x1="277.72" y1="237.2" x2="277.72" y2="238.39999999999998" stroke="#555" stroke-width="0.5"/>
<line x1="278.95" y1="237.2" x2="278.95" y2="238.39999999999998" stroke="#555" stroke-width="0.5"/>
<line x1="280.03" y1="237.2" x2="280.03" y2="238.39999999999998" stroke="#555" stroke-width="0.5"/>
<line x1="196.20" y1="237.2" x2="196.20" y2="239.2" stroke="#333" stroke-width="0.6"/>
<text x="193.9" y="245.7" font-size="4.8" font-family='"Liberation Sans", sans-serif' font-weight="normal" fill="#333" >10</text>
<text x="199.2" y="243.5" font-size="3.4" font-family='"Liberation Sans", sans-serif' font-weight="normal" fill="#333" >0</text>
<line x1="217.40" y1="237.2" x2="217.40" y2="239.2" stroke="#333" stroke-width="0.6"/>
<text x="215.1" y="245.7" font-size="4.8" font-family='"Liberation Sans", sans-serif' font-weight="normal" fill="#333" >10</text>
<text x="220.4" y="243.5" font-size="3.4" font-family='"Liberation Sans", sans-serif' font-weight="normal" fill="#333" >1</text>
<line x1="238.60" y1="237.2" x2="238.60" y2="239.2" stroke="#333" stroke-width="0.6"/>
<text x="236.3" y="245.7" font-size="4.8" font-family='"Liberation Sans", sans-serif' font-weight="normal" fill="#333" >10</text>
<text x="241.6" y="243.5" font-size="3.4" font-family='"Liberation Sans", sans-serif' font-weight="normal" fill="#333" >2</text>
<line x1="259.80" y1="237.2" x2="259.80" y2="239.2" stroke="#333" stroke-width="0.6"/>
<text x="257.5" y="245.7" font-size="4.8" font-family='"Liberation Sans", sans-serif' font-weight="normal" fill="#333" >10</text>
<text x="262.8" y="243.5" font-size="3.4" font-family='"Liberation Sans", sans-serif' font-weight="normal" fill="#333" >3</text>
<line x1="281.00" y1="237.2" x2="281.00" y2="239.2" stroke="#333" stroke-width="0.6"/>
<text x="278.7" y="245.7" font-size="4.8" font-family='"Liberation Sans", sans-serif' font-weight="normal" fill="#333" >10</text>
<text x="284.0" y="243.5" font-size="3.4" font-family='"Liberation Sans", sans-serif' font-weight="normal" fill="#333" >4</text>
<text x="194.8" y="163.8" font-size="6.0" font-family='"Liberation Sans", sans-serif' font-weight="normal" fill="#333" text-anchor="middle" transform="rotate(-90 194.8 163.8)" >128</text>
<text x="194.8" y="237.8" font-size="5.5" font-family='"Liberation Sans", sans-serif' font-weight="normal" fill="#333" text-anchor="middle" transform="rotate(-90 194.8 237.8)" >0</text>
<text x="192.6" y="200.35" font-size="4.8" font-family='"Liberation Sans", sans-serif' font-weight="normal" fill="#666" text-anchor="middle" transform="rotate(-90 192.6 200.35)" textLength="19.5" lengthAdjust="spacingAndGlyphs">Events</text>
<path d="M76.6,344.0 L76.6,328.38 L77.1,322.2 L77.6,315.28 L78.1,307.16 L78.6,301.5 L79.1,293.14 L79.6,296.18 L80.1,286.02 L80.6,274.96 L81.1,275.29 L81.6,271.5 L82.1,284.05 L82.6,283.4 L83.1,290.39 L83.6,291.49 L84.1,295.6 L84.6,305.03 L85.1,307.77 L85.6,312.05 L86.1,313.29 L86.6,319.18 L87.1,326.01 L87.6,327.46 L88.1,332.41 L88.6,333.88 L89.1,336.83 L89.6,338.6 L90.1,339.07 L90.6,340.74 L91.1,341.58 L91.6,341.96 L92.1,342.68 L92.6,343.08 L93.1,343.38 L93.6,343.59 L94.1,343.73 L94.6,343.83 L95.1,343.9 L95.6,343.94 L96.1,343.96 L96.6,343.98 L97.1,343.99 L97.6,343.99 L98.1,344.0 L98.6,344.0 L99.1,344.0 L99.6,344.0 L100.1,344.0 L100.6,344.0 L101.1,344.0 L101.6,344.0 L102.1,344.0 L102.6,344.0 L103.1,344.0 L103.6,344.0 L104.1,344.0 L104.6,344.0 L105.1,344.0 L105.6,344.0 L106.1,344.0 L106.6,344.0 L107.1,344.0 L107.6,344.0 L108.1,344.0 L108.6,344.0 L109.1,344.0 L109.6,344.0 L110.1,344.0 L110.6,344.0 L111.1,344.0 L111.6,344.0 L112.1,344.0 L112.6,344.0 L113.1,344.0 L113.6,344.0 L114.1,344.0 L114.6,344.0 L115.1,344.0 L115.6,344.0 L116.1,344.0 L116.1,344.0 Z" fill="#808080" stroke="#4a4a4a" stroke-width="0.6"/>
<path d="M76.6,343.51 L77.2,342.57 L77.8,339.98 L78.4,336.55 L79.0,327.68 L79.6,315.31 L80.2,308.73 L80.8,288.27 L81.4,282.5 L82.0,278.43 L82.6,275.04 L83.2,274.02 L83.8,294.21 L84.4,290.67 L85.0,298.61 L85.6,306.29 L86.2,311.62 L86.8,321.57 L87.4,329.3 L88.0,333.55 L88.6,336.7 L89.2,338.88 L89.8,336.08 L90.4,333.22 L91.0,327.54 L91.6,327.68 L92.2,331.57 L92.8,334.37 L93.4,330.26 L94.0,326.54 L94.6,328.71 L95.2,333.45 L95.8,334.86 L96.4,338.83 L97.0,341.44 L97.6,343.09 L98.2,343.7 L98.8,343.92 L99.4,343.98 L100.0,344.0 L100.6,344.0 L101.2,344.0 L101.8,344.0 L102.4,344.0 L103.0,344.0 L103.6,344.0 L104.2,344.0 L104.8,344.0 L105.4,344.0 L106.0,344.0 L106.6,344.0 L107.2,344.0 L107.8,344.0 L108.4,344.0 L109.0,344.0 L109.6,344.0 L110.2,344.0 L110.8,344.0 L111.4,344.0 L112.0,344.0 L112.6,344.0 L113.2,344.0 L113.8,344.0 L114.4,344.0 L115.0,344.0 L115.6,344.0 L116.2,344.0 L116.8,344.0 L117.4,344.0 L118.0,344.0 L118.6,344.0 L119.2,344.0 L119.8,344.0 L120.4,344.0 L121.0,344.0 L121.6,344.0 L122.2,344.0 L122.8,344.0 L123.4,344.0 L124.0,344.0 L124.6,344.0 L125.2,344.0 L125.8,344.0 L126.4,344.0 L127.0,344.0 L127.6,344.0 L128.2,344.0 L128.8,344.0 L129.4,344.0 L130.0,344.0 L130.6,344.0 L131.2,344.0 L131.8,344.0 L132.4,344.0 L133.0,344.0 L133.6,344.0 L134.2,344.0 L134.8,344.0 L135.4,344.0 L136.0,344.0 L136.6,344.0 L137.2,344.0 L137.8,344.0 L138.4,344.0 L139.0,344.0 L139.6,344.0 L140.2,344.0 L140.8,344.0 L141.4,344.0 L142.0,344.0 L142.6,344.0 L143.2,344.0 L143.8,344.0 L144.4,344.0 L145.0,344.0 L145.6,344.0 L146.2,344.0 L146.8,344.0 L147.4,344.0 L148.0,344.0 L148.6,344.0 L149.2,344.0 L149.8,344.0 L150.4,344.0 L151.0,344.0 L151.6,344.0 L152.2,344.0 L152.8,344.0 L153.4,344.0 L154.0,344.0 L154.6,344.0 L155.2,344.0 L155.8,344.0 L156.4,344.0 L157.0,344.0 L157.6,344.0 L158.2,344.0 L158.8,344.0 L159.4,344.0 L160.0,344.0 L160.6,344.0" fill="none" stroke="#000" stroke-width="1.5" stroke-linejoin="round"/>
<line x1="76.1" y1="271.5" x2="76.1" y2="344.0" stroke="#444" stroke-width="0.9"/>
<line x1="76.1" y1="344.0" x2="161.0" y2="344.0" stroke="#111" stroke-width="1.25"/>
<line x1="82.49" y1="344.0" x2="82.49" y2="345.2" stroke="#555" stroke-width="0.5"/>
<line x1="86.23" y1="344.0" x2="86.23" y2="345.2" stroke="#555" stroke-width="0.5"/>
<line x1="88.88" y1="344.0" x2="88.88" y2="345.2" stroke="#555" stroke-width="0.5"/>
<line x1="90.94" y1="344.0" x2="90.94" y2="345.2" stroke="#555" stroke-width="0.5"/>
<line x1="92.62" y1="344.0" x2="92.62" y2="345.2" stroke="#555" stroke-width="0.5"/>
<line x1="94.04" y1="344.0" x2="94.04" y2="345.2" stroke="#555" stroke-width="0.5"/>
<line x1="95.27" y1="344.0" x2="95.27" y2="345.2" stroke="#555" stroke-width="0.5"/>
<line x1="96.35" y1="344.0" x2="96.35" y2="345.2" stroke="#555" stroke-width="0.5"/>
<line x1="103.71" y1="344.0" x2="103.71" y2="345.2" stroke="#555" stroke-width="0.5"/>
<line x1="107.45" y1="344.0" x2="107.45" y2="345.2" stroke="#555" stroke-width="0.5"/>
<line x1="110.10" y1="344.0" x2="110.10" y2="345.2" stroke="#555" stroke-width="0.5"/>
<line x1="112.16" y1="344.0" x2="112.16" y2="345.2" stroke="#555" stroke-width="0.5"/>
<line x1="113.84" y1="344.0" x2="113.84" y2="345.2" stroke="#555" stroke-width="0.5"/>
<line x1="115.26" y1="344.0" x2="115.26" y2="345.2" stroke="#555" stroke-width="0.5"/>
<line x1="116.49" y1="344.0" x2="116.49" y2="345.2" stroke="#555" stroke-width="0.5"/>
<line x1="117.58" y1="344.0" x2="117.58" y2="345.2" stroke="#555" stroke-width="0.5"/>
<line x1="124.94" y1="344.0" x2="124.94" y2="345.2" stroke="#555" stroke-width="0.5"/>
<line x1="128.68" y1="344.0" x2="128.68" y2="345.2" stroke="#555" stroke-width="0.5"/>
<line x1="131.33" y1="344.0" x2="131.33" y2="345.2" stroke="#555" stroke-width="0.5"/>
<line x1="133.39" y1="344.0" x2="133.39" y2="345.2" stroke="#555" stroke-width="0.5"/>
<line x1="135.07" y1="344.0" x2="135.07" y2="345.2" stroke="#555" stroke-width="0.5"/>
<line x1="136.49" y1="344.0" x2="136.49" y2="345.2" stroke="#555" stroke-width="0.5"/>
<line x1="137.72" y1="344.0" x2="137.72" y2="345.2" stroke="#555" stroke-width="0.5"/>
<line x1="138.80" y1="344.0" x2="138.80" y2="345.2" stroke="#555" stroke-width="0.5"/>
<line x1="146.16" y1="344.0" x2="146.16" y2="345.2" stroke="#555" stroke-width="0.5"/>
<line x1="149.90" y1="344.0" x2="149.90" y2="345.2" stroke="#555" stroke-width="0.5"/>
<line x1="152.55" y1="344.0" x2="152.55" y2="345.2" stroke="#555" stroke-width="0.5"/>
<line x1="154.61" y1="344.0" x2="154.61" y2="345.2" stroke="#555" stroke-width="0.5"/>
<line x1="156.29" y1="344.0" x2="156.29" y2="345.2" stroke="#555" stroke-width="0.5"/>
<line x1="157.71" y1="344.0" x2="157.71" y2="345.2" stroke="#555" stroke-width="0.5"/>
<line x1="158.94" y1="344.0" x2="158.94" y2="345.2" stroke="#555" stroke-width="0.5"/>
<line x1="160.03" y1="344.0" x2="160.03" y2="345.2" stroke="#555" stroke-width="0.5"/>
<line x1="76.10" y1="344.0" x2="76.10" y2="346.0" stroke="#333" stroke-width="0.6"/>
<text x="73.8" y="352.5" font-size="4.8" font-family='"Liberation Sans", sans-serif' font-weight="normal" fill="#333" >10</text>
<text x="79.1" y="350.3" font-size="3.4" font-family='"Liberation Sans", sans-serif' font-weight="normal" fill="#333" >0</text>
<line x1="97.32" y1="344.0" x2="97.32" y2="346.0" stroke="#333" stroke-width="0.6"/>
<text x="95.02" y="352.5" font-size="4.8" font-family='"Liberation Sans", sans-serif' font-weight="normal" fill="#333" >10</text>
<text x="100.32" y="350.3" font-size="3.4" font-family='"Liberation Sans", sans-serif' font-weight="normal" fill="#333" >1</text>
<line x1="118.55" y1="344.0" x2="118.55" y2="346.0" stroke="#333" stroke-width="0.6"/>
<text x="116.25" y="352.5" font-size="4.8" font-family='"Liberation Sans", sans-serif' font-weight="normal" fill="#333" >10</text>
<text x="121.55" y="350.3" font-size="3.4" font-family='"Liberation Sans", sans-serif' font-weight="normal" fill="#333" >2</text>
<line x1="139.78" y1="344.0" x2="139.78" y2="346.0" stroke="#333" stroke-width="0.6"/>
<text x="137.47" y="352.5" font-size="4.8" font-family='"Liberation Sans", sans-serif' font-weight="normal" fill="#333" >10</text>
<text x="142.78" y="350.3" font-size="3.4" font-family='"Liberation Sans", sans-serif' font-weight="normal" fill="#333" >3</text>
<line x1="161.00" y1="344.0" x2="161.00" y2="346.0" stroke="#333" stroke-width="0.6"/>
<text x="158.7" y="352.5" font-size="4.8" font-family='"Liberation Sans", sans-serif' font-weight="normal" fill="#333" >10</text>
<text x="164.0" y="350.3" font-size="3.4" font-family='"Liberation Sans", sans-serif' font-weight="normal" fill="#333" >4</text>
<text x="74.7" y="271.8" font-size="6.0" font-family='"Liberation Sans", sans-serif' font-weight="normal" fill="#333" text-anchor="middle" transform="rotate(-90 74.7 271.8)" >64</text>
<text x="74.7" y="344.6" font-size="5.5" font-family='"Liberation Sans", sans-serif' font-weight="normal" fill="#333" text-anchor="middle" transform="rotate(-90 74.7 344.6)" >0</text>
<text x="72.5" y="307.75" font-size="4.8" font-family='"Liberation Sans", sans-serif' font-weight="normal" fill="#666" text-anchor="middle" transform="rotate(-90 72.5 307.75)" textLength="19.5" lengthAdjust="spacingAndGlyphs">Events</text>
<text x="108.3" y="358.8" font-size="6.2" font-family='"Liberation Sans", sans-serif' font-weight="normal" fill="#222" stroke="#222" stroke-width="0.1" textLength="19.5" lengthAdjust="spacingAndGlyphs" >FL1-Height</text>
<path d="M197.1,344.0 L197.1,342.06 L197.6,339.79 L198.1,336.4 L198.6,331.43 L199.1,325.36 L199.6,313.34 L200.1,304.81 L200.6,292.13 L201.1,286.48 L201.6,272.51 L202.1,273.62 L202.6,269.5 L203.1,269.5 L203.6,277.52 L204.1,281.51 L204.6,285.82 L205.1,297.22 L205.6,300.58 L206.1,306.12 L206.6,316.79 L207.1,320.67 L207.6,326.83 L208.1,330.73 L208.6,334.9 L209.1,337.3 L209.6,337.87 L210.1,339.08 L210.6,340.31 L211.1,341.28 L211.6,341.83 L212.1,342.19 L212.6,342.69 L213.1,343.06 L213.6,343.34 L214.1,343.55 L214.6,343.7 L215.1,343.81 L215.6,343.88 L216.1,343.93 L216.6,343.96 L217.1,343.97 L217.6,343.99 L218.1,343.99 L218.6,344.0 L219.1,344.0 L219.6,344.0 L220.1,344.0 L220.6,344.0 L221.1,344.0 L221.6,344.0 L222.1,344.0 L222.6,344.0 L223.1,344.0 L223.6,344.0 L224.1,344.0 L224.6,344.0 L225.1,344.0 L225.6,344.0 L226.1,344.0 L226.6,344.0 L227.1,344.0 L227.6,344.0 L228.1,344.0 L228.6,344.0 L229.1,344.0 L229.6,344.0 L230.1,344.0 L230.6,344.0 L231.1,344.0 L231.6,344.0 L232.1,344.0 L232.6,344.0 L233.1,344.0 L233.6,344.0 L234.1,344.0 L234.6,344.0 L235.1,344.0 L235.6,344.0 L236.1,344.0 L236.6,344.0 L236.6,344.0 Z" fill="#808080" stroke="#4a4a4a" stroke-width="0.6"/>
<path d="M197.1,343.99 L197.7,343.98 L198.3,343.97 L198.9,343.94 L199.5,343.89 L200.1,343.81 L200.7,343.69 L201.3,343.51 L201.9,343.25 L202.5,342.89 L203.1,342.32 L203.7,341.59 L204.3,341.64 L204.9,340.01 L205.5,339.34 L206.1,339.79 L206.7,337.98 L207.3,337.5 L207.9,338.41 L208.5,336.68 L209.1,337.85 L209.7,337.57 L210.3,336.88 L210.9,336.24 L211.5,335.1 L212.1,335.03 L212.7,332.51 L213.3,331.69 L213.9,328.53 L214.5,324.38 L215.1,324.32 L215.7,319.4 L216.3,312.29 L216.9,315.55 L217.5,309.92 L218.1,311.25 L218.7,298.39 L219.3,304.17 L219.9,301.76 L220.5,294.32 L221.1,301.0 L221.7,301.42 L222.3,301.13 L222.9,301.32 L223.5,300.02 L224.1,302.25 L224.7,302.42 L225.3,303.38 L225.9,305.88 L226.5,308.29 L227.1,305.09 L227.7,315.31 L228.3,318.71 L228.9,320.26 L229.5,324.22 L230.1,322.88 L230.7,325.89 L231.3,330.25 L231.9,332.77 L232.5,336.58 L233.1,338.85 L233.7,340.55 L234.3,341.54 L234.9,342.54 L235.5,343.14 L236.1,343.52 L236.7,343.75 L237.3,343.87 L237.9,343.94 L238.5,343.97 L239.1,343.99 L239.7,344.0 L240.3,344.0 L240.9,344.0 L241.5,344.0 L242.1,344.0 L242.7,344.0 L243.3,344.0 L243.9,344.0 L244.5,344.0 L245.1,344.0 L245.7,344.0 L246.3,344.0 L246.9,344.0 L247.5,344.0 L248.1,344.0 L248.7,344.0 L249.3,344.0 L249.9,344.0 L250.5,344.0 L251.1,344.0 L251.7,344.0 L252.3,344.0 L252.9,344.0 L253.5,344.0 L254.1,344.0 L254.7,344.0 L255.3,344.0 L255.9,344.0 L256.5,344.0 L257.1,344.0 L257.7,344.0 L258.3,344.0 L258.9,344.0 L259.5,344.0 L260.1,344.0 L260.7,344.0 L261.3,344.0 L261.9,344.0 L262.5,344.0 L263.1,344.0 L263.7,344.0 L264.3,344.0 L264.9,344.0 L265.5,344.0 L266.1,344.0 L266.7,344.0 L267.3,344.0 L267.9,344.0 L268.5,344.0 L269.1,344.0 L269.7,344.0 L270.3,344.0 L270.9,344.0 L271.5,344.0 L272.1,344.0 L272.7,344.0 L273.3,344.0 L273.9,344.0 L274.5,344.0 L275.1,344.0 L275.7,344.0 L276.3,344.0 L276.9,344.0 L277.5,344.0 L278.1,344.0 L278.7,344.0 L279.3,344.0 L279.9,344.0 L280.5,344.0 L281.1,344.0 L281.7,344.0" fill="none" stroke="#000" stroke-width="1.2" stroke-linejoin="round"/>
<line x1="196.6" y1="269.5" x2="196.6" y2="344.0" stroke="#444" stroke-width="0.9"/>
<line x1="196.6" y1="344.0" x2="282.0" y2="344.0" stroke="#111" stroke-width="1.25"/>
<line x1="203.03" y1="344.0" x2="203.03" y2="345.2" stroke="#555" stroke-width="0.5"/>
<line x1="206.79" y1="344.0" x2="206.79" y2="345.2" stroke="#555" stroke-width="0.5"/>
<line x1="209.45" y1="344.0" x2="209.45" y2="345.2" stroke="#555" stroke-width="0.5"/>
<line x1="211.52" y1="344.0" x2="211.52" y2="345.2" stroke="#555" stroke-width="0.5"/>
<line x1="213.21" y1="344.0" x2="213.21" y2="345.2" stroke="#555" stroke-width="0.5"/>
<line x1="214.64" y1="344.0" x2="214.64" y2="345.2" stroke="#555" stroke-width="0.5"/>
<line x1="215.88" y1="344.0" x2="215.88" y2="345.2" stroke="#555" stroke-width="0.5"/>
<line x1="216.97" y1="344.0" x2="216.97" y2="345.2" stroke="#555" stroke-width="0.5"/>
<line x1="224.38" y1="344.0" x2="224.38" y2="345.2" stroke="#555" stroke-width="0.5"/>
<line x1="228.14" y1="344.0" x2="228.14" y2="345.2" stroke="#555" stroke-width="0.5"/>
<line x1="230.80" y1="344.0" x2="230.80" y2="345.2" stroke="#555" stroke-width="0.5"/>
<line x1="232.87" y1="344.0" x2="232.87" y2="345.2" stroke="#555" stroke-width="0.5"/>
<line x1="234.56" y1="344.0" x2="234.56" y2="345.2" stroke="#555" stroke-width="0.5"/>
<line x1="235.99" y1="344.0" x2="235.99" y2="345.2" stroke="#555" stroke-width="0.5"/>
<line x1="237.23" y1="344.0" x2="237.23" y2="345.2" stroke="#555" stroke-width="0.5"/>
<line x1="238.32" y1="344.0" x2="238.32" y2="345.2" stroke="#555" stroke-width="0.5"/>
<line x1="245.73" y1="344.0" x2="245.73" y2="345.2" stroke="#555" stroke-width="0.5"/>
<line x1="249.49" y1="344.0" x2="249.49" y2="345.2" stroke="#555" stroke-width="0.5"/>
<line x1="252.15" y1="344.0" x2="252.15" y2="345.2" stroke="#555" stroke-width="0.5"/>
<line x1="254.22" y1="344.0" x2="254.22" y2="345.2" stroke="#555" stroke-width="0.5"/>
<line x1="255.91" y1="344.0" x2="255.91" y2="345.2" stroke="#555" stroke-width="0.5"/>
<line x1="257.34" y1="344.0" x2="257.34" y2="345.2" stroke="#555" stroke-width="0.5"/>
<line x1="258.58" y1="344.0" x2="258.58" y2="345.2" stroke="#555" stroke-width="0.5"/>
<line x1="259.67" y1="344.0" x2="259.67" y2="345.2" stroke="#555" stroke-width="0.5"/>
<line x1="267.08" y1="344.0" x2="267.08" y2="345.2" stroke="#555" stroke-width="0.5"/>
<line x1="270.84" y1="344.0" x2="270.84" y2="345.2" stroke="#555" stroke-width="0.5"/>
<line x1="273.50" y1="344.0" x2="273.50" y2="345.2" stroke="#555" stroke-width="0.5"/>
<line x1="275.57" y1="344.0" x2="275.57" y2="345.2" stroke="#555" stroke-width="0.5"/>
<line x1="277.26" y1="344.0" x2="277.26" y2="345.2" stroke="#555" stroke-width="0.5"/>
<line x1="278.69" y1="344.0" x2="278.69" y2="345.2" stroke="#555" stroke-width="0.5"/>
<line x1="279.93" y1="344.0" x2="279.93" y2="345.2" stroke="#555" stroke-width="0.5"/>
<line x1="281.02" y1="344.0" x2="281.02" y2="345.2" stroke="#555" stroke-width="0.5"/>
<line x1="196.60" y1="344.0" x2="196.60" y2="346.0" stroke="#333" stroke-width="0.6"/>
<text x="194.3" y="352.5" font-size="4.8" font-family='"Liberation Sans", sans-serif' font-weight="normal" fill="#333" >10</text>
<text x="199.6" y="350.3" font-size="3.4" font-family='"Liberation Sans", sans-serif' font-weight="normal" fill="#333" >0</text>
<line x1="217.95" y1="344.0" x2="217.95" y2="346.0" stroke="#333" stroke-width="0.6"/>
<text x="215.65" y="352.5" font-size="4.8" font-family='"Liberation Sans", sans-serif' font-weight="normal" fill="#333" >10</text>
<text x="220.95" y="350.3" font-size="3.4" font-family='"Liberation Sans", sans-serif' font-weight="normal" fill="#333" >1</text>
<line x1="239.30" y1="344.0" x2="239.30" y2="346.0" stroke="#333" stroke-width="0.6"/>
<text x="237.0" y="352.5" font-size="4.8" font-family='"Liberation Sans", sans-serif' font-weight="normal" fill="#333" >10</text>
<text x="242.3" y="350.3" font-size="3.4" font-family='"Liberation Sans", sans-serif' font-weight="normal" fill="#333" >2</text>
<line x1="260.65" y1="344.0" x2="260.65" y2="346.0" stroke="#333" stroke-width="0.6"/>
<text x="258.35" y="352.5" font-size="4.8" font-family='"Liberation Sans", sans-serif' font-weight="normal" fill="#333" >10</text>
<text x="263.65" y="350.3" font-size="3.4" font-family='"Liberation Sans", sans-serif' font-weight="normal" fill="#333" >3</text>
<line x1="282.00" y1="344.0" x2="282.00" y2="346.0" stroke="#333" stroke-width="0.6"/>
<text x="279.7" y="352.5" font-size="4.8" font-family='"Liberation Sans", sans-serif' font-weight="normal" fill="#333" >10</text>
<text x="285.0" y="350.3" font-size="3.4" font-family='"Liberation Sans", sans-serif' font-weight="normal" fill="#333" >4</text>
<text x="195.2" y="269.8" font-size="6.0" font-family='"Liberation Sans", sans-serif' font-weight="normal" fill="#333" text-anchor="middle" transform="rotate(-90 195.2 269.8)" >64</text>
<text x="195.2" y="344.6" font-size="5.5" font-family='"Liberation Sans", sans-serif' font-weight="normal" fill="#333" text-anchor="middle" transform="rotate(-90 195.2 344.6)" >0</text>
<text x="193.0" y="306.75" font-size="4.8" font-family='"Liberation Sans", sans-serif' font-weight="normal" fill="#666" text-anchor="middle" transform="rotate(-90 193.0 306.75)" textLength="19.5" lengthAdjust="spacingAndGlyphs">Events</text>
<text x="228.8" y="358.8" font-size="6.2" font-family='"Liberation Sans", sans-serif' font-weight="normal" fill="#222" stroke="#222" stroke-width="0.1" textLength="19.5" lengthAdjust="spacingAndGlyphs" >FL1-Height</text>
<text x="299.4" y="17.8" font-size="25.4" font-family='"Liberation Sans", sans-serif' font-weight="bold" fill="#000" >B</text>
<path d="M331,173.3 L331,173.3 L331.7,173.3 L332.4,173.3 L333.1,173.3 L333.8,173.29 L334.5,173.29 L335.2,173.29 L335.9,173.28 L336.6,173.28 L337.3,173.27 L338.0,173.26 L338.7,173.24 L339.4,173.22 L340.1,173.2 L340.8,173.16 L341.5,173.12 L342.2,173.06 L342.9,172.99 L343.6,172.9 L344.3,172.79 L345.0,172.64 L345.7,172.46 L346.4,172.24 L347.1,171.96 L347.8,171.62 L348.5,171.21 L349.2,170.71 L349.9,170.13 L350.6,169.33 L351.3,168.11 L352.0,167.54 L352.7,166.29 L353.4,164.76 L354.1,163.93 L354.8,161.41 L355.5,158.95 L356.2,155.95 L356.9,155.75 L357.6,152.05 L358.3,149.9 L359.0,142.3 L359.7,138.77 L360.4,139.08 L361.1,126.75 L361.8,121.27 L362.5,118.57 L363.2,113.03 L363.9,112.78 L364.6,109.03 L365.3,95.48 L366.0,97.23 L366.7,89.76 L367.4,84.03 L368.1,84.12 L368.8,72.21 L369.5,70.32 L370.2,60.53 L370.9,67.2 L371.6,66.09 L372.3,71.59 L373.0,71.81 L373.7,79.87 L374.4,87.62 L375.1,80.19 L375.8,86.03 L376.5,94.34 L377.2,102.12 L377.9,112.89 L378.6,119.22 L379.3,123.74 L380.0,130.79 L380.7,129.57 L381.4,137.22 L382.1,138.62 L382.8,145.57 L383.5,146.37 L384.2,150.5 L384.9,156.83 L385.6,158.6 L386.3,158.98 L387.0,162.22 L387.7,163.07 L388.4,165.69 L389.1,167.42 L389.8,167.87 L390.5,168.73 L391.2,169.95 L391.9,170.46 L392.6,171.02 L393.3,171.48 L394.0,171.85 L394.7,172.16 L395.4,172.4 L396.1,172.6 L396.8,172.75 L397.5,172.88 L398.2,172.98 L398.9,173.05 L399.6,173.11 L399.6,173.3 Z" fill="#d4d4d4" stroke="#7a7a7a" stroke-width="0.8"/>
<path d="M331,173.3 L331.6,173.29 L332.2,173.29 L332.8,173.29 L333.4,173.29 L334.0,173.28 L334.6,173.28 L335.2,173.27 L335.8,173.26 L336.4,173.25 L337.0,173.24 L337.6,173.23 L338.2,173.21 L338.8,173.18 L339.4,173.15 L340.0,173.11 L340.6,173.07 L341.2,173.01 L341.8,172.94 L342.4,172.86 L343.0,172.76 L343.6,172.63 L344.2,172.48 L344.8,172.3 L345.4,172.09 L346.0,171.84 L346.6,171.54 L347.2,171.18 L347.8,170.77 L348.4,170.3 L349.0,169.6 L349.6,168.91 L350.2,168.65 L350.8,168.0 L351.4,166.59 L352.0,165.64 L352.6,163.41 L353.2,162.11 L353.8,160.63 L354.4,158.88 L355.0,156.48 L355.6,156.06 L356.2,152.5 L356.8,151.12 L357.4,144.37 L358.0,145.96 L358.6,137.7 L359.2,139.27 L359.8,130.6 L360.4,129.42 L361.0,124.48 L361.6,115.21 L362.2,119.86 L362.8,114.89 L363.4,98.55 L364.0,99.11 L364.6,100.67 L365.2,81.03 L365.8,76.42 L366.4,86.95 L367.0,76.78 L367.6,78.63 L368.2,71.46 L368.8,61.63 L369.4,69.15 L370.0,55.17 L370.6,68.7 L371.2,65.04 L371.8,46.29 L372.4,54.72 L373.0,61.89 L373.6,64.01 L374.2,70.38 L374.8,76.16 L375.4,87.12 L376.0,78.69 L376.6,79.58 L377.2,84.84 L377.8,95.08 L378.4,104.63 L379.0,109.41 L379.6,110.24 L380.2,115.42 L380.8,125.98 L381.4,128.98 L382.0,131.93 L382.6,134.73 L383.2,136.47 L383.8,142.18 L384.4,148.12 L385.0,146.96 L385.6,151.67 L386.2,153.86 L386.8,157.22 L387.4,158.61 L388.0,160.58 L388.6,161.38 L389.2,164.3 L389.8,164.78 L390.4,166.52 L391.0,166.86 L391.6,168.51 L392.2,169.01 L392.8,169.62 L393.4,170.01 L394.0,170.61 L394.6,171.05 L395.2,171.43 L395.8,171.74 L396.4,172.01 L397.0,172.24 L397.6,172.43 L398.2,172.59 L398.8,172.72 L399.4,172.83 L400.0,172.92 L400.6,172.99 L401.2,173.05 L401.8,173.1 L402.4,173.14 L403.0,173.17 L403.6,173.2 L404.2,173.22 L404.8,173.24 L405.4,173.25 L406.0,173.26 L406.6,173.27 L407.2,173.28 L407.8,173.28 L408.4,173.29 L409.0,173.29 L409.6,173.29" fill="none" stroke="#333" stroke-width="1.15"/>
<path d="M331,173.06 L331.6,171.59 L332.2,171.59 L332.8,170.67 L333.4,173.17 L334.0,173.11 L334.6,173.22 L335.2,173.12 L335.8,171.34 L336.4,173.24 L337.0,172.27 L337.6,173.13 L338.2,172.98 L338.8,172.62 L339.4,170.74 L340.0,171.95 L340.6,173.3 L341.2,173.02 L341.8,173.22 L342.4,170.53 L343.0,170.91 L343.6,170.93 L344.2,170.81 L344.8,171.28 L345.4,170.02 L346.0,171.0 L346.6,173.06 L347.2,170.67 L347.8,172.44 L348.4,171.22 L349.0,172.14 L349.6,172.63 L350.2,172.82 L350.8,172.63 L351.4,172.94 L352.0,173.25 L352.6,170.85 L353.2,170.98 L353.8,169.76 L354.4,171.56 L355.0,172.18 L355.6,171.26 L356.2,173.23 L356.8,171.63 L357.4,172.58 L358.0,173.19 L358.6,173.15 L359.2,172.3 L359.8,173.06 L360.4,172.53 L361.0,171.96 L361.6,172.72 L362.2,173.23 L362.8,172.41 L363.4,173.09 L364.0,173.08 L364.6,173.14 L365.2,172.79 L365.8,173.25 L366.4,171.72 L367.0,169.94 L367.6,172.7 L368.2,171.35 L368.8,170.05 L369.4,173.2 L370.0,173.12 L370.6,170.8 L371.2,170.58 L371.8,171.62 L372.4,172.98 L373.0,172.41 L373.6,170.24 L374.2,170.07 L374.8,170.52 L375.4,172.65 L376.0,170.07 L376.6,172.13 L377.2,170.67 L377.8,172.36 L378.4,168.87 L379.0,170.84 L379.6,170.12 L380.2,171.7 L380.8,170.3 L381.4,170.26 L382.0,170.01 L382.6,170.59 L383.2,168.89 L383.8,170.14 L384.4,170.34 L385.0,169.8 L385.6,169.9 L386.2,168.08 L386.8,168.94 L387.4,168.25 L388.0,168.71 L388.6,167.08 L389.2,167.36 L389.8,166.68 L390.4,165.9 L391.0,165.2 L391.6,164.64 L392.2,162.63 L392.8,162.34 L393.4,163.68 L394.0,159.39 L394.6,160.67 L395.2,157.49 L395.8,159.23 L396.4,158.94 L397.0,158.17 L397.6,156.9 L398.2,155.4 L398.8,151.02 L399.4,152.38 L400.0,151.27 L400.6,147.94 L401.2,147.47 L401.8,144.62 L402.4,143.16 L403.0,142.49 L403.6,139.26 L404.2,138.81 L404.8,131.23 L405.4,125.94 L406.0,127.86 L406.6,121.77 L407.2,117.06 L407.8,124.93 L408.4,118.03 L409.0,118.75 L409.6,113.39 L410.2,104.47 L410.8,101.57 L411.4,95.98 L412.0,93.89 L412.6,96.87 L413.2,88.37 L413.8,102.69 L414.4,90.82 L415.0,91.4 L415.6,81.68 L416.2,98.33 L416.8,96.86 L417.4,94.91 L418.0,77.48 L418.6,81.71 L419.2,84.3 L419.8,85.94 L420.4,87.23 L421.0,94.72 L421.6,97.83 L422.2,95.15 L422.8,112.67 L423.4,111.76 L424.0,105.97 L424.6,109.48 L425.2,118.71 L425.8,121.8 L426.4,131.7 L427.0,129.41 L427.6,140.36 L428.2,142.23 L428.8,145.36 L429.4,147.27 L430.0,153.11 L430.6,153.22 L431.2,156.84 L431.8,158.91 L432.4,159.99 L433.0,160.78 L433.6,163.72 L434.2,164.87 L434.8,168.47 L435.4,165.9 L436.0,169.18 L436.6,169.18 L437.2,170.87 L437.8,170.53 L438.4,171.93 L439.0,171.5 L439.6,170.37 L440.2,172.25 L440.8,172.64 L441.4,172.93 L442.0,171.24 L442.6,172.43 L443.2,170.1 L443.8,171.19 L444.4,173.18 L445.0,170.2 L445.6,170.09 L446.2,170.84 L446.8,170.76 L447.4,171.59 L448.0,171.4 L448.6,171.67 L449.2,172.02 L449.8,173.06 L450.4,173.23 L451.0,171.38 L451.6,172.0 L452.2,173.29 L452.8,171.8 L453.4,171.94 L454.0,172.35 L454.6,171.11 L455.2,170.5 L455.8,172.77 L456.4,170.88 L457.0,172.39 L457.6,172.11 L458.2,172.68 L458.8,170.13 L459.4,172.58 L460.0,169.99 L460.6,172.88 L461.2,171.65 L461.8,170.26 L462.4,171.6 L463.0,172.79 L463.6,173.28 L464.2,172.47 L464.8,172.67 L465.4,170.88 L466.0,171.06 L466.6,169.76 L467.2,172.57 L467.8,172.69 L468.4,172.14 L469.0,171.25 L469.6,173.28 L470.2,173.13 L470.8,173.22 L471.4,172.92 L472.0,172.97 L472.6,169.88 L473.2,173.14 L473.8,170.12 L474.4,172.98 L475.0,173.15 L475.6,169.84 L476.2,173.27 L476.8,173.25 L477.4,173.24 L478.0,173.28 L478.6,172.76 L479.2,173.14 L479.8,173.21 L480.4,173.3 L481.0,171.52 L481.6,173.29 L482.2,173.1 L482.8,172.13 L483.4,170.45 L484.0,171.71 L484.6,171.47 L485.2,171.51 L485.8,170.98 L486.4,170.65 L487.0,173.21 L487.6,173.29 L488.2,171.89 L488.8,172.32 L489.4,172.31 L490.0,171.07 L490.6,173.19 L491.2,171.48 L491.8,172.64 L492.4,172.65 L493.0,173.08 L493.6,173.01 L494.2,172.08 L494.8,172.18 L495.4,170.3 L496.0,173.01 L496.6,171.43 L497.2,173.27 L497.8,171.75 L498.4,173.21 L499.0,170.62 L499.6,169.9 L500.2,173.06 L500.8,170.92 L501.4,173.12 L502.0,172.96 L502.6,173.26 L503.2,172.59 L503.8,173.26 L504.4,171.49 L505.0,172.09 L505.6,172.66 L506.2,171.46 L506.8,173.1 L507.4,172.9 L508.0,172.82 L508.6,173.3 L509.2,170.43 L509.8,173.27" fill="none" stroke="#000" stroke-width="1.2"/>
<rect x="330.6" y="27.3" width="180.0" height="146.5" fill="none" stroke="#8c8c8c" stroke-width="1.3"/>
<text x="327.8" y="173.3" font-size="8" font-family='"Liberation Sans", sans-serif' font-weight="normal" fill="#111" stroke="#111" stroke-width="0.15" text-anchor="middle" transform="rotate(-90 327.8 173.3)" textLength="5.2" lengthAdjust="spacingAndGlyphs">0</text>
<text x="327.8" y="144.14" font-size="8" font-family='"Liberation Sans", sans-serif' font-weight="normal" fill="#111" stroke="#111" stroke-width="0.15" text-anchor="middle" transform="rotate(-90 327.8 144.14)" textLength="10.4" lengthAdjust="spacingAndGlyphs">40</text>
<text x="327.8" y="114.98" font-size="8" font-family='"Liberation Sans", sans-serif' font-weight="normal" fill="#111" stroke="#111" stroke-width="0.15" text-anchor="middle" transform="rotate(-90 327.8 114.98)" textLength="10.4" lengthAdjust="spacingAndGlyphs">80</text>
<text x="327.8" y="85.82" font-size="8" font-family='"Liberation Sans", sans-serif' font-weight="normal" fill="#111" stroke="#111" stroke-width="0.15" text-anchor="middle" transform="rotate(-90 327.8 85.82)" textLength="15.600000000000001" lengthAdjust="spacingAndGlyphs">120</text>
<text x="327.8" y="56.66" font-size="8" font-family='"Liberation Sans", sans-serif' font-weight="normal" fill="#111" stroke="#111" stroke-width="0.15" text-anchor="middle" transform="rotate(-90 327.8 56.66)" textLength="15.600000000000001" lengthAdjust="spacingAndGlyphs">160</text>
<text x="327.8" y="27.5" font-size="8" font-family='"Liberation Sans", sans-serif' font-weight="normal" fill="#111" stroke="#111" stroke-width="0.15" text-anchor="middle" transform="rotate(-90 327.8 27.5)" textLength="15.600000000000001" lengthAdjust="spacingAndGlyphs">200</text>
<text x="316.8" y="101.2" font-size="8" font-family='"Liberation Sans", sans-serif' font-weight="normal" fill="#111" stroke="#111" stroke-width="0.15" text-anchor="middle" transform="rotate(-90 316.8 101.2)" textLength="30" lengthAdjust="spacingAndGlyphs">Counts</text>
<text x="383.0" y="187.2" font-size="9.2" font-family='"Liberation Sans", sans-serif' font-weight="normal" fill="#111" stroke="#111" stroke-width="0.15" textLength="7.3" lengthAdjust="spacingAndGlyphs" >10</text>
<text x="391.2" y="182.8" font-size="6.8" font-family='"Liberation Sans", sans-serif' font-weight="normal" fill="#111" stroke="#111" stroke-width="0.1" >1</text>
<text x="442.7" y="187.2" font-size="9.2" font-family='"Liberation Sans", sans-serif' font-weight="normal" fill="#111" stroke="#111" stroke-width="0.15" textLength="7.3" lengthAdjust="spacingAndGlyphs" >10</text>
<text x="450.9" y="182.8" font-size="6.8" font-family='"Liberation Sans", sans-serif' font-weight="normal" fill="#111" stroke="#111" stroke-width="0.1" >2</text>
<text x="502.7" y="187.2" font-size="9.2" font-family='"Liberation Sans", sans-serif' font-weight="normal" fill="#111" stroke="#111" stroke-width="0.15" textLength="7.3" lengthAdjust="spacingAndGlyphs" >10</text>
<text x="510.9" y="182.8" font-size="6.8" font-family='"Liberation Sans", sans-serif' font-weight="normal" fill="#111" stroke="#111" stroke-width="0.1" >3</text>
<text x="402.1" y="197.9" font-size="9" font-family='"Liberation Sans", sans-serif' font-weight="normal" fill="#111" stroke="#111" stroke-width="0.15" textLength="37" lengthAdjust="spacingAndGlyphs" >FL1-Height</text>
<text x="390.3" y="38.2" font-size="8" font-family='"Liberation Serif", serif' font-weight="normal" fill="#a8a8a8" textLength="23" lengthAdjust="spacingAndGlyphs" >control</text>
<text x="390.3" y="48.1" font-size="8" font-family='"Liberation Serif", serif' font-weight="bold" fill="#666" stroke="#666" stroke-width="0.15" textLength="60.5" lengthAdjust="spacingAndGlyphs" >resting monocytes</text>
<text x="390.3" y="58.4" font-size="8" font-family='"Liberation Serif", serif' font-weight="bold" fill="#000" stroke="#000" stroke-width="0.2" textLength="95.5" lengthAdjust="spacingAndGlyphs" >PMA-stimulated&#160; monocytes</text>
<text x="301.6" y="213.9" font-size="25.8" font-family='"Liberation Sans", sans-serif' font-weight="bold" fill="#000" >C</text>
<line x1="337.7" y1="217.9" x2="337.7" y2="345.0" stroke="#111" stroke-width="1.1"/>
<line x1="337.7" y1="342.4" x2="515.6" y2="342.4" stroke="#111" stroke-width="1.1"/>
<line x1="334.9" y1="342.40" x2="337.7" y2="342.40" stroke="#111" stroke-width="1"/>
<text x="330.4" y="345.3" font-size="8" font-family='"Liberation Sans", sans-serif' font-weight="bold" fill="#111" stroke="#111" stroke-width="0.15" text-anchor="end" >0</text>
<line x1="334.9" y1="321.65" x2="337.7" y2="321.65" stroke="#111" stroke-width="1"/>
<text x="330.4" y="324.55" font-size="8" font-family='"Liberation Sans", sans-serif' font-weight="bold" fill="#111" stroke="#111" stroke-width="0.15" text-anchor="end" >10</text>
<line x1="334.9" y1="300.90" x2="337.7" y2="300.90" stroke="#111" stroke-width="1"/>
<text x="330.4" y="303.8" font-size="8" font-family='"Liberation Sans", sans-serif' font-weight="bold" fill="#111" stroke="#111" stroke-width="0.15" text-anchor="end" >20</text>
<line x1="334.9" y1="280.15" x2="337.7" y2="280.15" stroke="#111" stroke-width="1"/>
<text x="330.4" y="283.05" font-size="8" font-family='"Liberation Sans", sans-serif' font-weight="bold" fill="#111" stroke="#111" stroke-width="0.15" text-anchor="end" >30</text>
<line x1="334.9" y1="259.40" x2="337.7" y2="259.40" stroke="#111" stroke-width="1"/>
<text x="330.4" y="262.3" font-size="8" font-family='"Liberation Sans", sans-serif' font-weight="bold" fill="#111" stroke="#111" stroke-width="0.15" text-anchor="end" >40</text>
<line x1="334.9" y1="238.65" x2="337.7" y2="238.65" stroke="#111" stroke-width="1"/>
<text x="330.4" y="241.55" font-size="8" font-family='"Liberation Sans", sans-serif' font-weight="bold" fill="#111" stroke="#111" stroke-width="0.15" text-anchor="end" >50</text>
<line x1="334.9" y1="217.90" x2="337.7" y2="217.90" stroke="#111" stroke-width="1"/>
<text x="330.4" y="220.8" font-size="8" font-family='"Liberation Sans", sans-serif' font-weight="bold" fill="#111" stroke="#111" stroke-width="0.15" text-anchor="end" >60</text>
<line x1="397.00" y1="342.4" x2="397.00" y2="345.0" stroke="#111" stroke-width="1"/>
<line x1="456.30" y1="342.4" x2="456.30" y2="345.0" stroke="#111" stroke-width="1"/>
<line x1="515.60" y1="342.4" x2="515.60" y2="345.0" stroke="#111" stroke-width="1"/>
<text x="337.7" y="357.6" font-size="8" font-family='"Liberation Sans", sans-serif' font-weight="bold" fill="#111" stroke="#111" stroke-width="0.15" text-anchor="middle" >0</text>
<text x="397.0" y="357.6" font-size="8" font-family='"Liberation Sans", sans-serif' font-weight="bold" fill="#111" stroke="#111" stroke-width="0.15" text-anchor="middle" >20</text>
<text x="456.3" y="357.6" font-size="8" font-family='"Liberation Sans", sans-serif' font-weight="bold" fill="#111" stroke="#111" stroke-width="0.15" text-anchor="middle" >40</text>
<text x="515.6" y="357.6" font-size="8" font-family='"Liberation Sans", sans-serif' font-weight="bold" fill="#111" stroke="#111" stroke-width="0.15" text-anchor="middle" >60</text>
<text x="310.6" y="277.3" font-size="8" font-family='"Liberation Serif", serif' font-weight="normal" fill="#111" stroke="#111" stroke-width="0.3" text-anchor="middle" transform="rotate(-90 310.6 277.3)" textLength="61.5" lengthAdjust="spacingAndGlyphs">mean fluorescence</text>
<text x="391.6" y="369.5" font-size="9" font-family='"Liberation Serif", serif' font-weight="bold" fill="#111" stroke="#111" stroke-width="0.3" textLength="33.2" lengthAdjust="spacingAndGlyphs" >MAN-1</text>
<text x="429.8" y="369.5" font-size="8.5" font-family='"Liberation Serif", serif' font-weight="normal" fill="#111" stroke="#111" stroke-width="0.1" textLength="30.6" lengthAdjust="spacingAndGlyphs" >[&#956;g/mL]</text>
<polyline points="337.70,337.83 340.66,335.55 352.52,320.40 367.35,324.56 397.00,315.01 485.95,322.48" fill="none" stroke="#8a8a8a" stroke-width="1.8"/>
<rect x="335.80" y="335.94" width="3.8" height="3.8" fill="#8a8a8a"/>
<rect x="338.76" y="333.65" width="3.8" height="3.8" fill="#8a8a8a"/>
<rect x="350.62" y="318.50" width="3.8" height="3.8" fill="#8a8a8a"/>
<rect x="365.45" y="322.66" width="3.8" height="3.8" fill="#8a8a8a"/>
<rect x="395.10" y="313.11" width="3.8" height="3.8" fill="#8a8a8a"/>
<rect x="484.05" y="320.58" width="3.8" height="3.8" fill="#8a8a8a"/>
<polyline points="337.70,334.10 340.66,332.02 352.52,267.70 367.35,236.16 397.00,224.54 485.95,231.80" fill="none" stroke="#000" stroke-width="1.6"/>
<path d="M335.30,334.10 L337.70,331.70 L340.10,334.10 L337.70,336.50 Z" fill="#000"/>
<path d="M338.26,332.02 L340.66,329.62 L343.06,332.02 L340.66,334.42 Z" fill="#000"/>
<path d="M350.12,267.70 L352.52,265.30 L354.92,267.70 L352.52,270.10 Z" fill="#000"/>
<path d="M364.95,236.16 L367.35,233.76 L369.75,236.16 L367.35,238.56 Z" fill="#000"/>
<path d="M394.60,224.54 L397.00,222.14 L399.40,224.54 L397.00,226.94 Z" fill="#000"/>
<path d="M483.55,231.80 L485.95,229.40 L488.35,231.80 L485.95,234.20 Z" fill="#000"/>
<line x1="395.0" y1="251.9" x2="409.3" y2="251.9" stroke="#000" stroke-width="1.6"/>
<path d="M399.6,251.8 L402,249.4 L404.4,251.8 L402,254.2 Z" fill="#000"/>
<text x="411.8" y="255.6" font-size="9.5" font-family='"Liberation Serif", serif' font-weight="bold" fill="#111" stroke="#111" stroke-width="0.3" textLength="72.6" lengthAdjust="spacingAndGlyphs" >100 ng/mL PMA</text>
<line x1="395.0" y1="269.9" x2="409.3" y2="269.9" stroke="#8a8a8a" stroke-width="1.8"/>
<rect x="400.1" y="268.0" width="3.8" height="3.8" fill="#8a8a8a"/>
<text x="411.8" y="273.6" font-size="9.3" font-family='"Liberation Serif", serif' font-weight="bold" fill="#111" stroke="#111" stroke-width="0.3" textLength="49.9" lengthAdjust="spacingAndGlyphs" >no addition</text>
</svg>
</body></html>
